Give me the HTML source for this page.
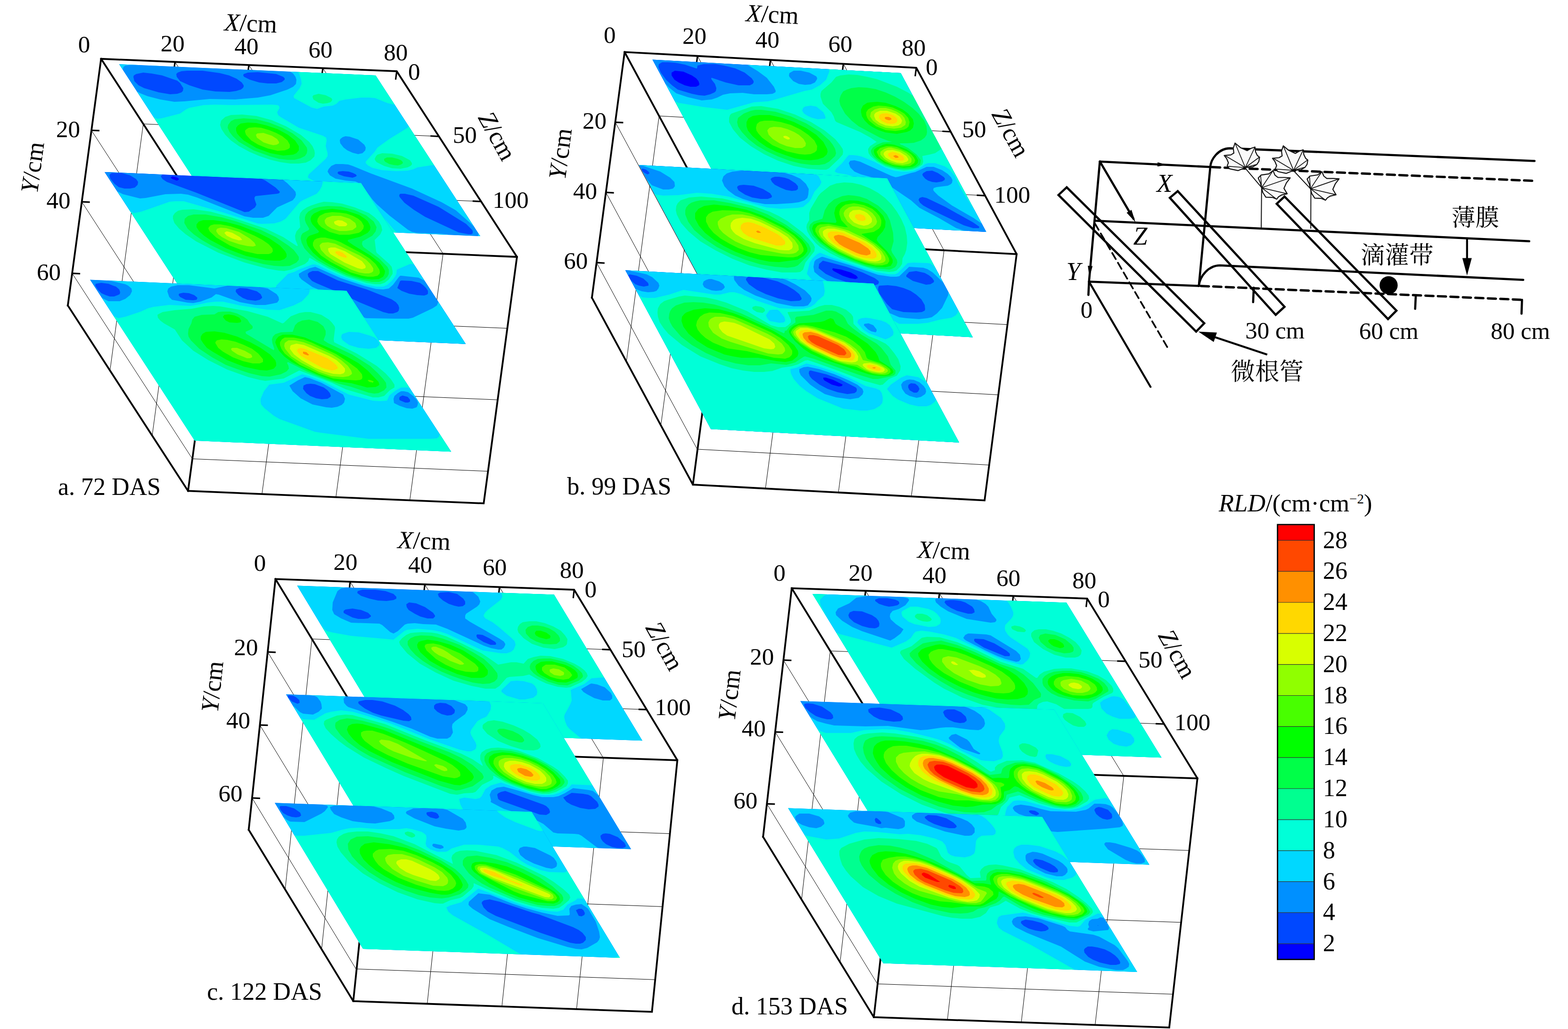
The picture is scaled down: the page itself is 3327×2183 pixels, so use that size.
<!DOCTYPE html><html><head><meta charset="utf-8"><style>html,body{margin:0;padding:0;background:#fff}svg{display:block}text{font-family:"Liberation Serif",serif;fill:#000}</style></head><body>
<svg width="3327" height="2183" viewBox="0 0 3327 2183">
<rect width="3327" height="2183" fill="#fff"/>
<g stroke="#000" stroke-linecap="butt" fill="none">
<g stroke-width="1.0">
<path d="M194,276.5 L449.1,670.1"/>
<path d="M449.1,670.1 L1076.4,696.5"/>
<path d="M173.6,428.2 L428.7,821.8"/>
<path d="M428.7,821.8 L1056,848.2"/>
<path d="M153.1,579.8 L408.2,973.4"/>
<path d="M408.2,973.4 L1035.5,999.8"/>
<path d="M304,262.9 L233.4,786.2"/>
<path d="M304,262.9 L931.3,289.3"/>
<path d="M393.5,401 L322.9,924.3"/>
<path d="M393.5,401 L1020.8,427.4"/>
<path d="M626.4,525 L555.8,1048.3"/>
<path d="M371.3,131.4 L626.4,525"/>
<path d="M783.2,531.6 L712.7,1054.9"/>
<path d="M528.1,138 L783.2,531.6"/>
<path d="M940.1,538.2 L869.5,1061.5"/>
<path d="M685,144.6 L940.1,538.2"/>
</g>
<g stroke-width="3.8" stroke-linejoin="miter" stroke-linecap="square">
<path d="M143.9,648.1 L214.5,124.8 L841.8,151.2 L1096.9,545 L1026.3,1067.9 L399,1041.5 L143.9,648.1"/>
<path d="M214.5,124.8 L469.6,518.4 L1096.9,545 M469.6,518.4 L399,1041.5"/>
</g>
<g stroke-width="3.2">
<path d="M371.3,131.4 L368.9,149.2"/>
<path d="M528.1,138 L525.7,155.8"/>
<path d="M685,144.6 L682.6,162.4"/>
<path d="M841.8,151.2 L839.4,169"/>
<path d="M194,276.5 L211,277.2"/>
<path d="M173.6,428.2 L190.6,428.9"/>
<path d="M153.1,579.8 L170.1,580.6"/>
<path d="M931.3,289.3 L913.3,288.5"/>
<path d="M1020.8,427.4 L1002.8,426.7"/>
</g>
</g>
<clipPath id="ca1"><polygon points="252.9,136.3 797.0,159.9 1019.1,501.1 475.0,477.5"/></clipPath>
<g clip-path="url(#ca1)">
<polygon points="252.9,136.3 797.0,159.9 1019.1,501.1 475.0,477.5" fill="#0048FF"/>
<path fill="#0090FF" fill-rule="evenodd" d="M253 130l3 3 75 0 3 3 75 0 3 3 75 0 3 3 72 0 3 3 75 0 3 3 75 0 3 3 75 0 9 9 0 3 6 6 0 3 6 6 0 3 3 3 0 3 6 6 0 3 6 6 0 3 6 6 0 3 6 6 0 3 6 6 0 3 6 6 0 3 3 3 0 3 6 6 0 3 6 6 0 3 6 6 0 3 6 6 0 3 6 6 0 3 6 6 0 3 3 3 0 3 6 6 0 3 6 6 0 3 6 6 0 3 6 6 0 3 6 6 0 3 3 3 0 3 6 6 0 3 6 6 0 3 6 6 0 3 6 6 0 3 6 6 0 3 6 6 0 3 3 3 0 3 6 6 0 3 6 6 0 3 6 6 0 3 6 6 0 3 6 6 0 3 6 6 0 3 3 3 0 3 6 6 0 3 6 6 0 3 3 3-6 6-3-3-66 0-3-3-63 0-3-3-66 1-3-3-63 0-3-3-66 0-3-3-66 0-3-3-63 0-3-3-66 0-9-10 0-3-6-6 0-3-6-6 0-3-6-6 0-3-6-6 0-3-3-3 0-3-6-6 0-3-6-6 0-3-6-6 0-3-6-6 0-3-6-6 0-3-6-6 0-3-6-6 0-3-6-6 0-3-6-6 0-3-3-3 0-3-6-6 0-3-6-6 0-3-6-6 0-3-6-6 0-3-6-6 0-3-6-6 0-3-6-6 0-3-6-6 0-3-3-3 0-3-6-6 0-3-6-6 0-3-6-6 0-3-6-6 0-3-6-6 0-3-6-6 0-3-6-6 0-3-6-6 0-3-6-6 0-3-3-3 0-3-6-6 0-3-6-6 0-3-6-6 0-3-6-6 0-3-3-3zM289 157l-5 3-1 3 2 9 9 9 12 6 31 9 24 4 15-1 9-3 3-3 1-6-7-11-6-5-9-3-23-8-22-4-18-2zM385 151l-8 3-3 3 1 6 7 9 20 9 28 9 27 4 30 1 14-2 10-3 4-3 2-3 0-3-4-6-11-8-16-7-20-5-36-5-33 0zM526 154l-9 3-1 3 2 3 12 6 20 6 18 2 18 0 12-3 6-5 0-3-3-3-15-6-39-4zM718 364l-2 3 3 3 11 4 18 3 6-2 3-2-2-3-6-3-9-3-13-1zM850 411l-2 1-1 3 1 3 10 12 20 15 24 15 71 33 21 4 6 0 3-2 0-5-2-3-12-12-58-36-54-24-18-4z"/>
<path fill="#00D8FF" fill-rule="evenodd" d="M253 130l3 3 75 0 3 3 75 0 0 3-21-2-57 3-24-2-33 0-8 1-4 3-2 6 1 6-2 0-12-18zM415 139l72 0 3 3 72 0 3 3 75 0 3 3 75 0 3 3 75 0 9 9 0 3 6 6 0 3 6 6 0 3 3 3 0 3 6 6 0 3 6 6 0 3 6 6 0 3 6 6 0 3 6 6 0 3 6 6 0 3 3 3 0 3 6 6 0 3 6 6 0 3 6 6 0 3 6 6 0 3 6 6 0 3 6 6 0 3 3 3 0 3 6 6 0 3 6 6 0 3 6 6 0 3 6 6 0 3 6 6 0 3 3 3 0 3 6 6 0 3 6 6 0 3 6 6 0 3 6 6 0 3 6 6 0 3 6 6 0 3 3 3 0 3 6 6 0 3 6 6 0 3 6 6 0 3 6 6 0 3 6 6 0 3 6 6 0 3 3 3 0 3 6 6 0 3 6 6 0 3 3 3-6 6-5-3 2-3 0-6-6-9-9-9-33-29-30-17-63-29-87-32-39-16-9-3-12-1-15 0-9 4-6 7-2 5 5 8 12 7 21 4 21 2 9 4 8 8 19 26 9 10 27 24 39 30 9 5 9 2 54 2 42 6-30 0-3-3-63 0-3-3-66 0-3-3-63 0-3-3-66 0-3-3-66 0-3-3-63 0-3-3-66 0-9-9 0-3-6-6 0-3-6-6 0-3-6-6 0-3-6-6 0-3-3-3 0-3-6-6 0-3-6-6 0-3-6-6 0-3-6-6 0-3-6-6 0-3-6-6 0-3-6-6 0-3-6-6 0-3-6-6 0-3-3-3 0-3-6-6 0-3-6-6 0-3-6-6 0-3-6-6 0-3-6-6 0-3-6-6 0-3-6-6 0-3-6-6 0-3-3-3 0-3-6-6 0-3-6-6 0-3-6-6 0-3-6-6 0-3-6-6 0-3-6-6 0-3-6-6 0-3-6-6 0-3 15 8 15 6 27 7 30 5 21-1 54-5 54 1 48-4 27-5 36-12 12-6 6-6 1-9-2-6-5-7-6-4-9-2-66-7-21 0-30 3-30-5zM727 291l-5 4-1 3 1 6 7 9 8 6 11 5 12 3 9-2 6-6 1-6-3-6-13-11-18-6-9-1zM262 157l1 3-1 0z"/>
<path fill="#00FFD8" fill-rule="evenodd" d="M628 145l12 0 3 3 75 0 3 3 75 0 9 9 0 3 6 6 0 3 6 6 0 3 3 3 0 3 6 6 0 3 6 6 0 3 6 6 0 3 6 6 0 3 6 6 0 6-6-9-6-4-15-3-27-11-12-1-18 0-33 4-13 3-6 6-8 4-19 2-14 5-12-3-37-20-1-3 1-3 12-15 4-9-1-9-4-12zM295 211l0-2 2 2zM298 214l0-2 2 2zM301 217l0-2 2 2 10 15-3 0-3-3 0-3-6-6zM432 223l25-1 33 1 87-1 12 1 3 2 1 4-5 9 2 6 5 4 39 23 51 17 7 4 1 6-2 12 4 15 0 6-4 6-36 33-2 6 2 2 9 5 30 6 51 5 12 4 6 5 24 31 28 29 23 27 8 6-32 0-3-3-63 0-3-3-66 0-3-3-66 0-3-3-63 0-3-3-66 0-9-9 0-3-6-6 0-3-6-6 0-3-6-6 0-3-6-6 0-3-3-3 0-3-6-6 0-3-6-6 0-3-6-6 0-3-6-6 0-3-6-6 0-3-6-6 0-3-6-6 0-3-6-6 0-3-6-6 0-3-3-3 0-3-6-6 0-3-6-6 0-3-6-6 0-3-6-6 0-3-6-6 0-3-6-6 0-3-6-6 0-3-6-6 0-3-3-3 0-3-6-6 0-3-6-6 0-5 9 8 6 2 9-1 39-10 13-9 6-3zM313 235l0-2 5 8-2 0-3-3zM850 235l3 0 3 3 0 6zM856 244l3 0 0 4zM860 250l2 0 0 3zM862 253l3 0 0 5zM866 259l2 0 3 3 0 3 6 6 0 3 6 6 0 3 6 6 0 3 6 6 0 3 3 3 0 3 6 6 0 3 6 6 0 3 6 6 0 3 6 6 0 3 6 6 0 3 3 3 0 6-6-8-6-3-33 5-9 4-12 3-24 1-30-2-21-5-9-5-5-5 0-3 19-21 6-9 25-18 39-24 2-3 1-3zM931 361l3 0 3 3 0 6zM937 370l3 0 3 3 0 6zM943 379l3 0 3 3 0 6zM949 388l3 0 3 3 0 3 6 6 0 3 6 6 0 3 3 3 0 5zM970 421l3 0 3 3 0 5zM976 430l3 0 3 3 0 6zM982 439l3 0 3 3 0 5zM989 448l2 0 3 3 0 4zM995 457l2 0 0 2zM998 460l2 0 0 3zM1005 469l1 0 0 2z"/>
<path fill="#00FF90" fill-rule="evenodd" d="M665 202l11-3 15 3 12 6 2 3-1 3-3 3-7 2-9 1-9-2-11-7-2-6zM490 244l24-1 30 3 33 9 30 13 31 18 18 15 7 9 4 9 1 6-1 7-8 8-10 5-15 2-18 0-21-3-21-5-24-8-21-9-22-12-17-12-12-12-8-12-3-9 2-9 9-8zM811 325l21 1 21 5 17 9 4 6 0 3-3 3-6 3-15 3-18-1-17-5-16-8-3-4-1-3 3-6 3-3z"/>
<path fill="#00FF48" fill-rule="evenodd" d="M498 253l19-2 27 2 27 7 28 11 22 12 19 15 11 15 1 6-1 6-4 6-10 5-12 3-15 0-18-2-18-5-36-13-31-18-13-12-7-9-4-9 1-6 6-8zM821 334l11 0 12 3 7 3 3 3 1 3-4 3-7 2-9-1-9-2-9-5-2-3 0-3z"/>
<path fill="#00FF00" fill-rule="evenodd" d="M511 262l15-2 18 1 21 5 24 8 22 12 15 12 8 12 0 9-5 6-7 3-21 2-27-5-30-11-27-16-9-9-5-6-2-6 0-6 4-5z"/>
<path fill="#48FF00" fill-rule="evenodd" d="M528 271l13-1 13 1 17 5 15 6 13 7 11 9 5 9 0 6-3 3-8 3-15 1-21-5-20-8-15-9-11-12-2-6 0-3 3-3z"/>
<path fill="#90FF00" fill-rule="evenodd" d="M546 283l13-1 18 6 11 7 4 6 0 3-5 3-7 1-9-2-12-4-14-10-2-6z"/>
</g>
<clipPath id="ca2"><polygon points="222.0,364.9 766.1,388.5 988.2,729.7 444.1,706.1"/></clipPath>
<g clip-path="url(#ca2)">
<polygon points="222.0,364.9 766.1,388.5 988.2,729.7 444.1,706.1" fill="#0000FF"/>
<path fill="#0048FF" fill-rule="evenodd" d="M222 359l3 3 75 0 3 3 75 0 3 3 75 0 3 3 72 0 3 3 75 0 3 3 75 0 3 3 75 0 9 9 0 3 6 6 0 3 6 6 0 3 3 3 0 3 6 6 0 3 6 6 0 3 6 6 0 3 6 6 0 3 6 6 0 3 6 6 0 3 3 3 0 3 6 6 0 3 6 6 0 3 6 6 0 3 6 6 0 3 6 6 0 3 6 6 0 3 3 3 0 3 6 6 0 3 6 6 0 3 6 6 0 3 6 6 0 3 6 6 0 3 3 3 0 3 6 6 0 3 6 6 0 3 6 6 0 3 6 6 0 3 6 6 0 3 6 6 0 3 3 3 0 3 6 6 0 3 6 6 0 3 6 6 0 3 6 6 0 3 6 6 0 3 6 6 0 3 3 3 0 3 6 6 0 3 6 6 0 3 3 3-6 6-3-3-66 0-3-3-63 0-3-3-66 0-3-3-63 0-3-3-66 0-3-3-66 0-3-3-63 0-3-3-66 0-9-9 0-3-6-6 0-3-6-6 0-3-6-6 0-3-6-6 0-3-3-3 0-3-6-6 0-3-6-6 0-3-6-6 0-3-6-6 0-3-6-6 0-3-6-6 0-3-6-6 0-3-6-6 0-3-6-6 0-3-3-3 0-3-6-6 0-3-6-6 0-3-6-6 0-3-6-6 0-3-6-6 0-3-6-6 0-3-6-6 0-3-6-6 0-3-3-3 0-3-6-6 0-3-6-6 0-3-6-6 0-3-6-6 0-3-6-6 0-3-6-6 0-3-6-6 0-3-6-6 0-3-6-6 0-3-3-3 0-3-6-6 0-3-6-6 0-3-6-6 0-3-6-6 0-3-3-3zM366 374l-4 3 4 3 9 3 3-1 2-2-3-3z"/>
<path fill="#0090FF" fill-rule="evenodd" d="M222 359l3 3 75 0 3 3 75 0 3 3 75 0 3 3 72 0 3 3 75 0 3 3 75 0 3 3 75 0 9 9 0 3 6 6 0 3 6 6 0 3 3 3 0 3 6 6 0 3 6 6 0 3 6 6 0 3 6 6 0 3 6 6 0 3 6 6 0 3 3 3 0 3 6 6 0 3 6 6 0 3 6 6 0 3 6 6 0 3 6 6 0 3 6 6 0 3 3 3 0 3 6 6 0 3 6 6 0 3 6 6 0 3 6 6 0 3 6 6 0 3 3 3 0 3 6 6 0 3 6 6 0 3 6 6 0 3 6 6 0 3 6 6 0 3 6 6 0 3 3 3 0 3 6 6 0 3 6 6 0 3 6 6 0 3 6 6 0 3 6 6 0 3 6 6 0 3 3 3 0 3 6 6 0 3 6 6 0 3 3 3-6 6-3-3-66 0-3-3-63 0-3-3-66 0-3-3-63 0-3-3-66 0-3-3-66 0-3-3-63 0-3-3-66 0-9-9 0-3-6-6 0-3-6-6 0-3-6-6 0-3-6-6 0-3-3-3 0-3-6-6 0-3-6-6 0-3-6-6 0-3-6-6 0-3-6-6 0-3-6-6 0-3-6-6 0-3-6-6 0-3-6-6 0-3-3-3 0-3-6-6 0-3-6-6 0-3-6-6 0-3-6-6 0-3-6-6 0-3-6-6 0-3-6-6 0-3-6-6 0-3-3-3 0-3-6-6 0-3-6-6 0-3-6-6 0-3-6-6 0-3-6-6 0-3-6-6 0-3-6-6 0-3-6-6 0-3-6-6 0-3-3-3 0-3-6-6 0-3-6-6 0-3-6-6 0-3-6-6 0-3-3-3zM237 367l-5 4 2 8 9 11 9 7 12 3 12 0 10-2 6-6 1-6-4-6-13-8-18-5zM357 368l-12 2-4 4 4 6 9 6 63 23 102 41 9-1 13-9 3-6-4-12 0-3 2-3 46-5 4-1 2-3-9-9-22-15-11-5-63-1-21-3-54 0-15-3zM663 575l-7 3-3 3 1 6 8 9 10 5 57 24 33 16 51 21 12 3 9 0 9-3 3-3 1-6-2-6-5-6-9-6-53-21-61-19-42-20zM852 595l-3 1-6 15 9 6 16 6 17 3 15 1 6-2 2-2 0-6-4-6-6-6-7-5-18-4z"/>
<path fill="#00D8FF" fill-rule="evenodd" d="M222 359l2 3-2 3 0 6-3 0 0-3-3-3zM275 362l25 0 3 3 23 0-32 1zM558 374l51 0 3 3 75 0 3 3 75 0 9 9 0 3 6 6 0 3 6 6 0 3 3 3 0 3 6 6 0 3 6 6 0 3 6 6 0 3 6 6 0 3 6 6 0 3 6 6 0 3 3 3 0 3 6 6 0 3 6 6 0 3 6 6 0 3 6 6 0 3 6 6 0 3 6 6 0 3 3 3 0 3 6 6 0 3 6 6 0 3 6 6 0 3 6 6 0 3 6 6 0 3 3 3 0 3 6 6 0 3 6 6 0 5-12-12-12-6-36-4-3 0-3 3-12 16-9 8-12 2-15-1-24-6-51-17-54-24-12 3-15 7-8 5 1 6 5 6 23 16 71 29 8 6 23 25 6 4 6 2 60 1 30 0 9-2 42-20 9-6 3-7-5-15 2 0 3 3 0 3 6 6 0 3 3 3 0 3 6 6 0 3 6 6 0 3 6 6 0 3 6 6 0 3 6 6 0 3 6 6 0 3 3 3 0 3 6 6 0 3 6 6 0 3 3 3-6 6-3-3-66 0-3-3-63 0-3-3-66 0-3-3-63 0-3-3-66 0-3-3-66 0-3-3-63 0-3-3-66 0-9-9 0-3-6-6 0-3-6-6 0-3-6-6 0-3-6-6 0-3-3-3 0-3-6-6 0-3-6-6 0-3-6-6 0-3-6-6 0-3-6-6 0-3-6-6 0-3-6-6 0-3-6-6 0-3-6-6 0-3-3-3 0-3-6-6 0-3-6-6 0-3-6-6 0-3-6-6 0-3-6-6 0-3-6-6 0-3-6-6 0-3-6-6 0-3-3-3 0-3-6-6 0-3-6-6 0-3-6-6 0-3-6-6 0-3-6-6 0-3-6-6 0-3-6-6 0-3-6-6 0-3-6-6 0-3-3-3 0-6 6 5 12 6 36 9 12-1 42-8 33-1 15 2 19 6 101 40 18 3 21 0 12-4 18-18 33-15 5-6 2-6-1-6-5-6-12-12-10-8-9-3-18-1zM231 389l0-1 1 1zM237 395l3 3-3 0zM240 401l0-3 3 3zM913 608l2 0 0 2zM915 611l3 0 0 4zM920 617l1 0 0 2zM921 620l3 0 0 5z"/>
<path fill="#00FFD8" fill-rule="evenodd" d="M626 377l61 0 3 3 75 0 9 9 0 3 6 6 0 3 6 6 0 3 3 3 0 3 6 6 0 3 6 6 0 3 6 6 0 3 6 6 0 3 6 6 0 3 6 6 0 3 3 3 0 3 6 6 0 3 6 6 0 3 6 6 0 3 6 6 0 3 6 6 0 3 6 6 0 3 3 3 0 3 6 6 0 3 6 6 0 3 6 6 0 3 6 6 0 3 6 6 0 2-18-18-3-2-6 0-28 12-1 9-3 6-7 9-9 8-9 4-15 0-24-5-27-9-30-11-42-20-6-2-6 0-27 10-12 6-13 4-24 24-3 6-2 6 3 6 9 10 22 20 44 43 25 23-37 0-3-3-66 0-3-3-63 0-3-3-66 0-9-9 0-3-6-6 0-3-6-6 0-3-6-6 0-3-6-6 0-3-3-3 0-3-6-6 0-3-6-6 0-3-6-6 0-3-6-6 0-3-6-6 0-3-6-6 0-3-6-6 0-3-6-6 0-3-6-6 0-3-3-3 0-3-6-6 0-3-6-6 0-3-6-6 0-3-6-6 0-3-6-6 0-3-6-6 0-3-6-6 0-3-6-6 0-3-3-3 0-3-6-6 0-3-6-6 0-3-6-6 0-3-6-6 0-3-6-6 0-3-6-6 0-3-6-6 0-3-3-3 0-3 21 25 3 3 6 2 15-3 60-21 12-1 18 0 84 24 72 23 9 1 27-1 14-4 10-6 30-35 6-4 30-14 6-7 5-9 2-9-1-3-3-3-9-1-33-1zM252 422l0-2 3 2z"/>
<path fill="#00FF90" fill-rule="evenodd" d="M675 431l12-3 18 1 21 3 27 8 30 12 12 9 9 9 5 9 2 9-4 9-12 12 3 24 1 3 27 24 5 6 2 9 0 6-8 12-9 7-9 3-12 0-18-3-42-13-39-18-39-22-1 1-2 6-7 6-29 12-15 3-12-1-24-4-48-13-56-21-47-24-22-15-14-12-10-12-3-9 0-6 4-6 7-5 9-2 24-1 36 5 44 12 73 24 37 18 29 19 2-1-5-12-1-9 3-9 8-9-2-21 2-9 5-6 9-6 9-4z"/>
<path fill="#00FF48" fill-rule="evenodd" d="M695 437l28 1 30 8 24 11 16 13 6 12-2 9-7 9-21 12-1 6 3 6 33 24 18 18 3 6 0 9-3 6-6 6-6 3-6 2-15 0-21-4-32-10-38-18-26-15-15-12-11-12-6-12-2-9 1-6 3-5 13-7 1-3-7-12-2-6 0-6 2-6 5-6 12-7 12-3zM411 455l25 0 34 6 32 9 52 18 31 15 27 18 11 9 7 9 4 6 0 6-5 6-14 7-15 1-18-1-24-4-27-7-27-8-30-12-25-12-21-12-17-12-13-12-7-12 1-9 7-6z"/>
<path fill="#00FF00" fill-rule="evenodd" d="M681 446l24-3 30 4 27 9 12 8 6 5 4 7 2 6-1 6-5 6-15 8-27 7 0 3 13 9 35 21 19 15 7 9 5 9-1 6-3 6-9 5-15 1-18-2-24-7-21-9-34-18-14-9-14-12-11-15-2-6-1-6 3-6 4-3 18-6 2-3-14-15-3-6-1-6 2-6 5-5zM431 467l22 0 27 4 30 8 38 15 24 12 22 15 11 12 3 6 0 6-5 5-9 3-12 0-18-1-42-9-42-16-34-18-13-9-10-9-6-9 0-6 5-6z"/>
<path fill="#48FF00" fill-rule="evenodd" d="M690 452l15-2 15 1 15 2 14 5 11 6 7 6 5 9-1 6-5 6-5 3-20 4-21 0-21-6-17-10-6-6-3-6 1-6 4-6zM454 476l14 0 21 4 21 7 30 13 17 9 13 9 8 9 1 6-3 4-6 2-24 0-27-6-31-12-29-17-14-13-3-6 1-3 4-4zM672 506l9-2 9 0 21 5 12 5 45 24 16 10 13 12 8 12 1 6-1 3-4 4-9 2-12 0-12-2-24-7-42-22-21-14-14-15-3-6 0-6 3-6z"/>
<path fill="#90FF00" fill-rule="evenodd" d="M705 458l18 0 19 6 12 9 2 6 0 3-8 6-13 2-15 0-16-5-10-6-4-5-1-4 0-3 4-5zM461 485l7-2 12 1 27 8 23 14 10 9 3 6-6 2-12-1-18-4-21-7-15-8-8-6-4-6 0-3zM684 515l12-1 15 3 52 25 14 9 9 9 6 9 0 6-3 3-6 2-9 0-12-2-17-6-35-18-18-12-11-12-3-9 2-3z"/>
<path fill="#D8FF00" fill-rule="evenodd" d="M709 470l8-3 9 1 9 5 2 3-2 3-3 1-12 0-9-4-2-3zM476 494l4-3 3 0 10 3 16 9 5 6-7 1-14-4-12-6zM696 527l6-2 9 0 21 8 36 21 7 9 1 3-1 3-7 2-9-2-28-12-30-18-4-6z"/>
<path fill="#FFD800" fill-rule="evenodd" d="M713 533l7 0 7 3 7 6 2 3-1 2-6-1-11-4-7-6z"/>
</g>
<clipPath id="ca3"><polygon points="191.1,593.5 735.2,617.1 957.3,958.3 413.2,934.7"/></clipPath>
<g clip-path="url(#ca3)">
<polygon points="191.1,593.5 735.2,617.1 957.3,958.3 413.2,934.7" fill="#0048FF"/>
<path fill="#0090FF" fill-rule="evenodd" d="M191 588l3 2 75 0 3 3 75 0 3 3 75 0 3 3 72 0 3 3 75 0 3 3 75 0 3 3 75 0 9 10 0 2 6 6 0 4 6 6 0 2 3 4 0 2 6 6 0 4 6 6 0 2 6 6 0 4 6 6 0 2 6 6 0 4 6 6 0 2 3 4 0 2 6 6 0 4 6 6 0 2 6 6 0 4 6 6 0 2 6 6 0 4 6 6 0 2 3 4 0 2 6 6 0 4 6 6 0 2 6 6 0 4 6 6 0 2 6 6 0 4 3 2 0 4 6 6 0 2 6 6 0 4 6 6 0 2 6 6 0 4 6 6 0 2 6 6 0 4 3 2 0 4 6 6 0 2 6 6 0 4 6 6 0 2 6 6 0 4 6 6 0 2 6 6 0 4 3 2 0 4 6 6 0 2 6 6 0 4 3 2-6 7-3-3-66 0-3-3-63 0-3-3-66 0-3-3-63 0-3-3-66 0-3-3-66 0-3-3-63 0-3-3-66 0-9-9 0-4-6-6 0-2-6-6 0-4-6-6 0-2-6-6 0-4-3-2 0-4-6-6 0-2-6-6 0-4-6-6 0-2-6-6 0-4-6-6 0-2-6-6 0-4-6-6 0-2-6-6 0-4-6-6 0-2-3-4 0-2-6-6 0-4-6-6 0-2-6-6 0-4-6-6 0-2-6-6 0-4-6-6 0-2-6-6 0-4-6-6 0-2-3-4 0-2-6-6 0-4-6-6 0-2-6-6 0-4-6-6 0-2-6-6 0-4-6-6 0-2-6-6 0-4-6-6 0-2-6-6 0-4-3-2 0-4-6-6 0-2-6-6 0-4-6-6 0-2-6-6 0-4-3-2zM203 602l-1 4 5 8 8 8 9 4 9 3 9 0 8-3 4-2 1-4-2-6-7-6-6-2-10-4-15-2zM380 623l-1 3 3 4 12 6 16 1 7-1 2-4-2-2-5-4-11-4-12-1zM509 611l-8 3-1 4 1 2 5 6 9 6 10 4 17 2 9-2 5-4 0-2-3-6-8-6-21-6zM650 815l-6 3-1 7 7 9 8 6 13 5 12 2 12-1 6-4 1-2-2-6-5-6-8-6-19-7-9-1zM854 839l-6 3-1 4 1 3 12 5 6 0 4-2 0-4-5-6z"/>
<path fill="#00D8FF" fill-rule="evenodd" d="M191 588l3 2 75 0 3 3 75 0 3 3 75 0 3 3 72 0 3 3 75 0 3 3 75 0 3 3 75 0 9 10 0 2 6 6 0 4 6 6 0 2 3 4 0 2 6 6 0 4 6 6 0 2 6 6 0 4 6 6 0 2 6 6 0 4 6 6 0 2 3 4 0 2 6 6 0 4 6 6 0 2 6 6 0 4 6 6 0 2 6 6 0 4 6 6 0 2 3 4 0 2 6 6 0 4 6 6 0 2 6 6 0 4 6 6 0 2 6 6 0 4 3 2 0 4 6 6 0 2 6 6 0 4 6 6 0 2 6 6 0 4 6 6 0 2 6 6 0 4 3 2 0 4 6 6 0 2 6 6 0 4 6 6 0 2 6 6 0 4 6 6 0 2 6 6 0 4 3 2 0 4 6 6 0 2 6 6 0 4 3 2-6 7-3-3-66 0-3-3-63 0-3-3-66 0-3-3-63 0-3-3-66 0-3-3-66 0-3-3-63 0-3-3-66 0-9-9 0-4-6-6 0-2-6-6 0-4-6-6 0-2-6-6 0-4-3-2 0-4-6-6 0-2-6-6 0-4-6-6 0-2-6-6 0-4-6-6 0-2-6-6 0-4-6-6 0-2-6-6 0-4-6-6 0-2-3-4 0-2-6-6 0-4-6-6 0-2-6-6 0-4-6-6 0-2-6-6 0-4-6-6 0-2-6-6 0-4-6-6 0-2-3-4 0-2-6-6 0-4-6-6 0-2-6-6 0-4-6-6 0-2-6-6 0-4-6-6 0-2-6-6 0-4-6-6 0-2-6-6 0-4-3-2 0-4-6-6 0-2 12 9 12 6 24 0 12-5 10-8 4-8-1-6-7-6-6-3-30-7-21-4-21 0-3 2-3 6 0-4-3-2zM377 605l-14 3-6 4-2 6 4 12 6 6 33 6 12 1 15-3 24-9 9-7 6 1 45 16 33 6 21 0 16-3 9-2 3-4 1-2-1-6-4-6-19-12-44-8-33 0-36 8-54-7zM647 800l-15 7-18 11 7 12 17 15 25 13 29 6 12 1 12-2 9-4 5-5 2-8-4-9-46-25-26-10zM851 830l-7 4-7 6-2 6 1 9 12 6 15 5 12 1 9-3 2-4 1-6-3-6-6-7-12-9-9-2z"/>
<path fill="#00FFD8" fill-rule="evenodd" d="M310 594l37-1 0 2-27 0zM412 596l13 0 0 2zM568 602l10 0 0 3zM580 606l76-1 3 3 75 0 9 10 0 2 6 6 0 4 6 6 0 2 3 4 0 2 6 6 0 4 6 6 0 2 6 6 0 4 6 6 0 2 6 6 0 4 6 6 0 2 3 4 0 2 6 6 0 4 6 6 0 2 6 6 0 4 6 6 0 2 6 6 0 4 6 6 0 2 3 4 0 2 6 6 0 4 6 6 0 2 6 6 0 4 6 6 0 2 6 6 0 4 3 2 0 4 6 6 0 5-9-5-15 0-11 6-8 6-6 5-5 11-15 1-15-1-51-13-53-27-31-12-15-4-39 18-31 4-11 14-7 16 0 6 1 6 7 8 20 16 12 7 75 27 12 2 102 13 132 0 13-1 5-4 1-6-4-8-15-24 3-1 3 3 0 4 6 6 0 2 6 6 0 4 6 6 0 2 6 6 0 4 3 2 0 4 6 6 0 2 6 6 0 4 3 2-6 7-3-3-66 0-3-3-63 0-3-3-66 0-3-3-63 0-3-3-66 0-3-3-66 0-3-3-63 0-3-3-66 0-9-9 0-4-6-6 0-2-6-6 0-4-6-6 0-2-6-6 0-4-3-2 0-4-6-6 0-2-6-6 0-4-6-6 0-2-6-6 0-4-6-6 0-2-6-6 0-4-6-6 0-2-6-6 0-4-6-6 0-2-3-4 0-2-6-6 0-4-6-6 0-2-6-6 0-4-6-6 0-2-6-6 0-4-6-6 0-2-6-6 0-4-6-6 0-2-3-4 0-2-6-6 0-4-6-6 0-2-6-6 0-4-6-6 0-2-6-6 0-4-6-6 0-2-6-6 0-4-6-6 0-3 7 7 14 17 9 4 15-3 33-11 15-7 12-3 33-4 45 2 18-3 18-4 18-2 15 0 36 8 57 9 27 1 30-10 18-9 14-15 2-6 0-4-4-2-6-2-30 0zM740 704l-12 4-3 2-1 6 3 6 14 10 20 6 21 2 16-2 5-4 2-2 0-4-3-6-7-6-10-4-24-7zM876 828l2 0 0 2zM878 830l3 0 0 4zM898 858l1 0 0 2 6 6 0 4 3 2 0 6-9-14zM909 878l2 0 3 4 0 5z"/>
<path fill="#00FF90" fill-rule="evenodd" d="M433 650l19-1 15 1 58 10 43 12 31 14 3-1 15-14 18-7 12-2 12 0 12 3 11 3 16 10 6 6 6 8 1 4-3 24 1 6 48 24 42 26 19 16 11 12 8 12 0 6-10 6-12 12-12 3-12 0-57-17-30-14-69-26-33 17-39 5-12-2-24-6-45-16-40-20-32-20-24-22-15-23-23-13-8-6-5-6-1-6 3-2 8-4 26-4 36-3z"/>
<path fill="#00FF48" fill-rule="evenodd" d="M463 662l10-1 15 0 15 4 14 7 8 6 5 8 6 6 0 4-2 2-13 6 1 4 59 35 1-3-4-12-1-8 2-6 5-5 12-4 25-1 5-14 6-6 9-4 15-2 18 5 12 9 5 10 0 8-4 10 0 2 9 6 51 24 38 24 17 16 11 12 6 8 1 10-5 6-12 6-9 1-12-2-39-13-24-6-27-9-41-17-40-20-2 2 3 6 1 6-5 6-12 6-24 5-16-1-26-6-27-9-24-9-29-16-27-18-18-18-5-8-1-6 1-10 6-12 2-8 5-6 15-4 27-1z"/>
<path fill="#00FF00" fill-rule="evenodd" d="M476 668l9-1 12 2 11 5 4 7-2 3-7 1-16-1-8-4-5-6-1-2zM437 704l18-1 21 3 27 8 28 12 22 12 20 14 11 12 2 6 0 6-5 6-6 2-9 2-15-1-33-7-36-14-31-18-12-8-8-10-5-8 0-6 4-6zM600 710l20 0 27 6 60 26 28 14 25 14 20 16 23 24 2 6-2 2-6 3-18 1-33-9-36-5-38-14-38-18-15-8-16-12-11-12-5-10-3-8 2-6 5-6z"/>
<path fill="#48FF00" fill-rule="evenodd" d="M604 716l19 0 21 4 18 7 51 24 26 17 19 14 10 12 1 6-1 4-4 2-9 1-30-2-18-2-30-10-41-19-22-16-10-8-7-10-3-8 0-6 4-6zM460 722l10-2 12 1 18 4 18 7 17 8 13 10 10 12 0 6-7 3-15 0-21-5-21-8-21-12-10-8-6-10 0-2zM780 806l5 0 8 3-2 3-3-1-5-1z"/>
<path fill="#90FF00" fill-rule="evenodd" d="M612 722l14 0 18 4 16 6 45 20 19 12 14 12 7 10 2 6-1 2-6 4-12 2-25-2-26-9-37-19-22-14-13-16-2-6 1-6 2-2zM493 738l10 0 16 6 14 8 2 4 0 2-5 2-6 0-20-8-12-8-2-4z"/>
<path fill="#D8FF00" fill-rule="evenodd" d="M618 732l11-3 16 3 53 23 16 9 11 10 7 8 0 6-3 4-7 2-15-1-19-5-20-8-28-16-16-12-9-12 1-6z"/>
<path fill="#FFD800" fill-rule="evenodd" d="M632 740l6-2 9 2 48 20 11 8 7 6 4 6-1 2-6 3-6 1-12-3-9-3-45-25-7-9-1-2z"/>
<path fill="#FF9000" fill-rule="evenodd" d="M643 746l7 1 6 6-3 1-6-2-4-2z"/>
</g>
<text x="366.3" y="108.6" font-size="51" text-anchor="middle">20</text>
<text x="523.1" y="115.2" font-size="51" text-anchor="middle">40</text>
<text x="680" y="121.8" font-size="51" text-anchor="middle">60</text>
<text x="839.8" y="128.4" font-size="51" text-anchor="middle">80</text>
<text x="178.5" y="110.5" font-size="51" text-anchor="middle">0</text>
<text x="170" y="290.7" font-size="51" text-anchor="end">20</text>
<text x="149.6" y="442.4" font-size="51" text-anchor="end">40</text>
<text x="129.1" y="594.1" font-size="51" text-anchor="end">60</text>
<text x="960.8" y="302.5" font-size="51" text-anchor="start">50</text>
<text x="1045.3" y="440.6" font-size="51" text-anchor="start">100</text>
<text x="878.8" y="169.4" font-size="51" text-anchor="middle">0</text>
<text x="532.1" y="66.9" font-size="53" text-anchor="middle" transform="rotate(2.4 532.1 49)"><tspan font-style="italic">X</tspan>/cm</text>
<text x="68.8" y="373.2" font-size="53" text-anchor="middle" transform="rotate(-82.3 68.8 355.3)"><tspan font-style="italic">Y</tspan>/cm</text>
<text x="1055.3" y="306.2" font-size="53" text-anchor="middle" transform="rotate(61 1055.3 288.3)"><tspan font-style="italic">Z</tspan>/cm</text>
<text x="341" y="1049.5" font-size="52" text-anchor="end">a. 72 DAS</text>
<g stroke="#000" stroke-linecap="butt" fill="none">
<g stroke-width="1.0">
<path d="M1305.5,259.3 L1519.1,655.2"/>
<path d="M1519.1,655.2 L2138,688.7"/>
<path d="M1285.6,408.2 L1499.2,804.1"/>
<path d="M1499.2,804.1 L2118.1,837.6"/>
<path d="M1265.8,557.1 L1479.4,953"/>
<path d="M1479.4,953 L2098.3,986.5"/>
<path d="M1398.5,246 L1329.1,767.2"/>
<path d="M1398.5,246 L2017.4,279.5"/>
<path d="M1471.6,381.6 L1402.2,902.8"/>
<path d="M1471.6,381.6 L2090.5,415.1"/>
<path d="M1693.6,514.7 L1624.2,1035.9"/>
<path d="M1480,118.8 L1693.6,514.7"/>
<path d="M1848.3,523 L1779,1044.2"/>
<path d="M1634.8,127.2 L1848.3,523"/>
<path d="M2003.1,531.4 L1933.7,1052.6"/>
<path d="M1789.5,135.5 L2003.1,531.4"/>
</g>
<g stroke-width="3.8" stroke-linejoin="miter" stroke-linecap="square">
<path d="M1255.9,631.6 L1325.3,110.4 L1944.2,143.9 L2157.1,539.2 L2089.1,1061.6 L1470.2,1028.1 L1255.9,631.6"/>
<path d="M1325.3,110.4 L1538.9,506.3 L2157.1,539.2 M1538.9,506.3 L1470.2,1028.1"/>
</g>
<g stroke-width="3.2">
<path d="M1480,118.8 L1477.6,136.6"/>
<path d="M1634.8,127.2 L1632.4,145"/>
<path d="M1789.5,135.5 L1787.1,153.4"/>
<path d="M1944.2,143.9 L1941.8,161.7"/>
<path d="M1305.5,259.3 L1322.4,260.2"/>
<path d="M1285.6,408.2 L1302.6,409.1"/>
<path d="M1265.8,557.1 L1282.8,558.1"/>
<path d="M2017.4,279.5 L1999.4,278.5"/>
<path d="M2090.5,415.1 L2072.5,414.1"/>
</g>
</g>
<clipPath id="cb1"><polygon points="1384.4,126.6 1911.2,155.1 2092.7,492.1 1565.9,463.6"/></clipPath>
<g clip-path="url(#cb1)">
<polygon points="1384.4,126.6 1911.2,155.1 2092.7,492.1 1565.9,463.6" fill="#0000FF"/>
<path fill="#0048FF" fill-rule="evenodd" d="M1384 121l3 2 54 0 3 3 57 0 3 3 54 0 3 3 57 0 3 3 54 0 3 3 57 0 3 3 54 0 3 3 57 0 3 3 54 0 10 10 0 3 3 3 0 3 3 3 0 3 3 3 0 3 3 3 0 3 6 6 0 3 3 3 0 3 3 3 0 3 3 3 0 3 3 3 0 3 6 6 0 3 3 3 0 3 3 3 0 3 3 3 0 3 3 3 0 3 6 6 0 3 3 3 0 3 3 3 0 3 3 3 0 3 3 3 0 3 6 6 0 3 3 3 0 3 3 3 0 3 3 3 0 3 3 3 0 3 3 3 0 3 6 6 0 3 3 3 0 3 3 3 0 3 3 3 0 3 3 3 0 3 6 6 0 3 3 3 0 3 3 3 0 3 6 9 0 3 6 6 0 3 3 3 0 3 3 3 0 3 3 3 0 3 3 3 0 3 6 6 0 3 3 3 0 3 3 3 0 3 6 9 0 3 6 6 0 3 3 3 0 3 3 3 0 3 3 3 0 3 6 9-7 6-3-3-57 0-3-3-54 0-3-3-57 0-3-3-54 0-3-3-57 0-3-3-54 0-3-3-57 0-3-3-54 0-3-3-57 0-9-9 0-3-6-9 0-3-6-9 0-3-3-3 0-3-3-3 0-3-6-6 0-3-3-3 0-3-3-3 0-3-3-3 0-3-3-3 0-3-3-3 0-3-6-6 0-3-6-9 0-3-6-9 0-3-3-3 0-3-3-3 0-3-6-6 0-3-3-3 0-3-3-3 0-3-3-3 0-3-3-3 0-3-3-3 0-3-6-6 0-3-3-3 0-3-3-3 0-3-3-3 0-3-6-9 0-3-3-3 0-3-6-6 0-3-6-9 0-3-3-3 0-3-3-3 0-3-3-3 0-3-6-6 0-3-3-3 0-3-3-3 0-3-3-3 0-3-3-3 0-3-3-3 0-3-3-3 0-3-6-6 0-3-3-3 0-3-3-3 0-3-3-3 0-3-3-3 0-3-3-3 0-3-3-3zM1432 150l-7 4 0 6 6 9 9 6 13 6 12 3 12 0 6-3 1-3-2-6-5-6-9-6-18-8z"/>
<path fill="#0090FF" fill-rule="evenodd" d="M1384 121l3 2 54 0 3 3 57 0 3 4 54-1 3 3 57 0 3 3 54 0 3 3 57 0 3 3 54 0 3 3 57 0 3 3 54 0 10 10 0 3 6 9 0 3 3 3 0 3 3 3 0 3 6 6 0 3 3 3 0 3 3 3 0 3 3 3 0 3 3 3 0 3 6 6 0 3 3 3 0 3 3 3 0 3 3 3 0 3 3 3 0 3 6 6 0 3 3 3 0 3 3 3 0 3 3 3 0 3 3 3 0 3 6 6 0 3 3 3 0 3 3 3 0 3 3 3 0 3 3 3 0 3 3 3 0 3 6 6 0 3 3 3 0 3 3 3 0 3 3 3 0 3 3 3 0 3 6 6 0 3 3 3 0 3 3 3 0 3 6 9 0 3 6 6 0 3 3 3 0 3 3 3 0 3 3 3 0 3 3 3 0 3 6 6 0 3 3 3 0 3 3 3 0 3 6 9 0 3 6 6 0 3 3 3 0 3 3 3 0 3 3 3 0 3 6 9-7 6-3-3-57 0-3-3-54 0-3-3-57 0-3-3-54 0-3-3-57 0-3-3-54 0-3-3-57 0-3-3-54 0-3-3-57 0-9-9 0-3-6-9 0-3-6-9 0-3-3-3 0-3-3-3 0-3-6-6 0-3-3-3 0-3-6-9 0-3-3-3 0-3-3-3 0-3-6-6 0-3-3-3 0-3-6-9 0-3-3-3 0-3-3-3 0-3-3-3 0-3-6-6 0-3-6-9 0-3-3-3 0-3-3-3 0-3-3-3 0-3-6-6 0-3-6-9 0-3-3-3 0-3-3-3 0-3-6-9 0-3-6-6 0-3-6-9 0-3-3-3 0-3-3-3 0-3-3-3 0-3-6-6 0-3-3-3 0-3-3-3 0-3-3-3 0-3-3-3 0-3-3-3 0-3-3-3 0-3-6-6 0-3-3-3 0-3-3-3 0-3-3-3 0-3-3-3 0-3-3-3 0-3-3-3zM1405 132l-7 4-1 6 5 12 12 16 12 11 12 9 30 9 15 3 12 1 12-3 9-4 3-3 1-6-3-9-7-9-1-3 1-1 30 10 27 6 24 0 6-3 2-3 0-3-4-6-15-12-20-9-24-6-17-3-26 0-13 3-1 6-2 0-24-8-21-4-15-1zM1951 420l-2 4 3 6 7 6 11 6 75 36 20 6 12 0 1-3-13-9-59-33-40-19-9-2zM1966 363l-7 4-2 3 1 3 5 6 6 4 9 3 9 1 12-2 5-3 1-3-2-3-13-9-12-5z"/>
<path fill="#00D8FF" fill-rule="evenodd" d="M1384 121l3 3 7 0-7 2-3 3-1 4-2 0 0-3-3-3zM1424 124l17 0 0 3zM1535 130l23 0 3 3 57-1 3 4 54-1 3 4 57-1 3 4 54-1 3 3 57 0 3 3 54 0 10 10 0 3 6 9 0 3 6 9 0 3 6 6 0 3 3 3 0 3 3 3 0 3 3 3 0 3 3 3 0 3 6 6 0 3 3 3 0 3 3 3 0 3 3 3 0 3 3 3 0 3 6 6 0 3 3 3 0 3 3 3 0 3 3 3 0 3 3 3 0 3 6 6 0 3 3 3 0 3 3 3 0 3 3 3 0 3 3 3 0 3 3 3 0 3 6 6 0 3 3 3 0 3 3 3 0 3 3 3 0 3 3 3 0 3 6 6 0 3 3 3 0 3 3 3 0 3 6 9 0 3 6 6 0 3 3 3 0 3 3 3 0 3 3 3 0 3 3 3 0 3 6 6 0 3 3 3 0 3 3 3 0 3 6 9 0 3 6 6 0 3 3 3-1 3 3 3 0 3 3 3 0 3 6 9-6 6-3-3 4-3-1-6-8-9-19-13-45-26-29-21-9-9-2-3 1-4 6-2 24-3 6-3 3-3 1-6-3-6-7-7-12-8-18-7-15 0-24 11-9 2-27 8-6 1-9-3-66-30-12-3-9 1-3 5 3 9 9 9 14 6 37 10 9 4 60 41 18 16 42 22 36 21 12 4 30 5-39 0-3-3-54 0-3-3-57 0-3-3-54 0-3-3-57 0-3-3-54 0-3-3-57 0-3-3-54 0-3-3-57 0-9-9 0-3-6-9 0-3-3-3 0-3-3-3 0-3-3-3 0-3-3-3 0-3-6-6 0-3-6-9 0-3-3-3 0-3-6-9 0-3-6-6 0-3-3-3 0-3-6-9 0-3-3-3 0-3-6-9 0-3-6-6 0-3-3-3 0-3-6-9 0-3-3-3 0-3-3-3 0-3-6-6 0-3-6-9 0-3-6-9 0-3-3-3 0-3-3-3 0-3-6-6 0-3-3-3 0-3-6-9 0-3-3-3 0-3-3-3 0-3-6-6 0-3-3-3 0-3-3-3 0-3-3-3 0-3-3-3 0-3-3-3 0-3-3-3 0-5 18 19 15 12 24 8 30 7 21-2 12-4 12-6 15-3 27-1 24 3 27 0 12-1 6-3 1-3-4-9-15-19-19-14-26-16zM1684 150l-9 5-1 5 1 3 8 9 12 6 13 2 12-1 9-4 4-6 1-3-2-4-15-8-18-4zM1393 157l0-2 2 2zM1396 160l3 3-3 0zM1399 166l0-3 2 3z"/>
<path fill="#00FFD8" fill-rule="evenodd" d="M1605 133l13 0 0 1zM1653 136l22 0 0 1zM1707 139l28 0 0 1zM1754 142l38 0 3 3 57 0 3 3 54 0 9 9 0 3 6 9 0 3 6 9 0 3 6 6 0 3 3 3 0 3 3 3 0 3 3 3 1 3 3 3 0 3 6 6 0 3 3 3 0 3 3 3 0 3 3 3 0 3 3 3 0 3 6 6 0 3 3 3 0 3 3 3 0 3 3 3 0 3 3 3 0 3 6 6 0 3 3 3 0 3 3 3 0 3 3 3 0 3 2 3 0 3 3 3 0 3 6 6 0 3 3 3 0 3 3 3 0 3 3 3 0 3 3 3 0 3 6 6 0 3 3 3 0 3 3 3 0 3 6 9 0 3 6 6 0 3 3 3 0 3 3 3 0 3 3 3 0 3 3 3 0 3 6 6 0 3 3 3 0 3 3 3 0 3 6 9 0 3 6 6 0 5-10-11-29-45-10-18-8-18-12-14-9-6-21-7-15 0-6 2-12 9-12 5-12 2-15 0-15-2-18-6-24-13-27-11-9-2-9-1-9 0-3 3-12 15-12 11-3 6 6 3 18 3 53 15 13 4 8 5 5 9 9 69 2 7 6 5-33 0-3-3-57 0-3-3-54 0-3-3-57 0-3-3-54 0-3-3-57 0-9-9 0-3-3-3 0-3-3-3 0-3-3-3 0-3-3-3 0-3-3-3 0-3-3-3 0-3-6-6 0-3-3-3 0-3-6-9 0-3-6-9 0-3-6-6 0-3-3-3 0-3-6-9 0-3-3-3 0-3-3-3 0-3-3-3 0-3-6-6 0-3-6-9 0-3-6-9 0-3-3-3 0-3-6-6 0-3-3-3 0-3-6-9 0-3-6-9 0-3-3-3 0-3-6-6 0-3-6-9 0-3-3-3 0-3-3-3 0-3-3-3 0-3-6-6 0-3-3-3 0-5 12 16 9 5 54 9 51 6 57-16 30-2 12-3 65-19 16-3 18-10 12-11 7-18-2-6zM1708 226l-4 3-2 6 4 6 8 5 9 4 12 3 12-1 3 0 2-2-2-6-3-6-15-12-12-2zM1411 190l0-2 1 2zM1414 193l2 3-2 0zM2084 466l2 0 0 2zM1915 487l0-2 23 2zM1975 490l0-2 17 2z"/>
<path fill="#00FF90" fill-rule="evenodd" d="M1783 160l18-2 18 1 21 4 21 5 42 16 23 12 19 12 0 3 3 3 0 3 6 6 0 3 3 3 0 3 3 3 0 3 3 3 0 3 3 3 0 3 6 6 0 3 3 3 0 3 3 3 0 3 3 3 0 3 3 3 0 3 6 6 0 3 3 3 0 3 3 3 0 3 3 3 2 6-8 6-9 6-12 3-15 3 2 12-2 6-9 6-12 5-18 2-18-3-21-6-18-10-14-12-4-6-1-6 0-3 4-6 14-9-13-9-22-12-50-21-3-3-3-9-5-9-18-18-5-15 0-6 2-6 21-18 10-12zM1595 226l20-1 36 6 36 12 34 16 29 18 22 18 10 12 6 9 1 6-1 6-8 9-21 20-6 3-12 0-27-2-30-6-33-11-30-14-28-17-23-18-15-18-8-15 0-9 2-6 3-3z"/>
<path fill="#00FF48" fill-rule="evenodd" d="M1806 187l16-2 18 1 18 3 21 7 20 9 19 11 18 13 13 12 12 15 5 12 1 12-1 6-4 6-8 6-15 5-15 1-22 0 7 0 2 3 4 1 12 6 18 14 9 12-1 6-1 3-9 6-10 3-12 1-15-1-15-4-14-5-11-6-11-9-5-6-2-6 0-3 4-6 9-6 12-5 20-1-8-2-18-7-45-24-15-12-14-15-10-18-2-9 1-6 2-6 5-8 8-4zM1593 235l10-2 12 0 30 4 33 10 33 15 29 18 20 18 7 9 5 9 2 9-2 6-13 12-9 5-12 2-15 0-24-3-24-6-24-9-24-11-21-12-18-14-14-15-8-12-2-9 2-9 12-9z"/>
<path fill="#00FF00" fill-rule="evenodd" d="M1848 217l13-1 18 2 21 7 15 7 12 9 10 12 2 9-2 9-6 6-7 3-21 4-24-3-15-5-12-6-9-6-8-8-6-9-2-9 0-6 4-8 9-6zM1611 244l22 0 27 6 25 9 26 13 21 14 15 15 8 15 1 6-2 6-7 6-12 4-15 2-15-1-18-3-21-7-19-7-20-10-16-11-14-12-10-12-3-9 0-9 4-8 9-5zM1874 307l8-2 15 2 15 5 12 5 12 8 7 6 5 9-1 6-5 5-6 3-18 2-21-3-20-7-17-12-4-6-2-6 1-5 5-4z"/>
<path fill="#48FF00" fill-rule="evenodd" d="M1853 226l11-2 15 1 15 3 15 7 10 6 8 9 3 9-2 9-4 4-6 3-18 3-21-2-20-8-15-12-4-6-2-6 0-6 4-6zM1622 256l17 0 18 3 21 6 21 10 16 11 13 12 6 12-1 9-4 4-9 4-12 1-12-1-27-6-30-13-22-16-8-9-4-6-1-6 2-8 6-5zM1881 310l10 0 12 2 23 10 8 6 5 6 3 6-2 6-9 6-16 1-21-3-16-7-9-6-5-6-4-9 7-8z"/>
<path fill="#90FF00" fill-rule="evenodd" d="M1856 232l11-3 12 0 12 3 12 5 11 7 5 6 3 9-1 6-9 6-15 2-18-2-15-6-12-9-6-9 2-9zM1633 271l9-2 15 1 14 4 14 6 10 6 10 9 5 9-1 6-7 4-15 0-18-4-15-6-14-9-9-9-3-9 2-3zM1876 316l9-3 6 0 21 6 11 6 7 6 4 6 0 6-2 3-5 2-12 2-15-2-15-5-9-6-8-9 0-6z"/>
<path fill="#D8FF00" fill-rule="evenodd" d="M1867 235l15 0 18 6 9 6 3 5 2 4-2 6-6 4-12 2-15-2-12-5-9-7-3-7 0-4 3-4zM1662 289l4-1 4 1 5 3 1 3-4 1-3-1-6-3zM1882 319l12-1 15 4 14 9 4 6 0 3-3 3-9 3-12-1-12-4-12-7-4-6 0-3 2-3z"/>
<path fill="#FFD800" fill-rule="evenodd" d="M1871 241l11-1 12 4 6 4 4 5-1 6-5 3-7 1-9-1-9-4-6-5-2-3 1-6zM1885 325l9-3 11 3 11 6 3 6-2 3-5 1-15-2-6-2-6-6-1-3z"/>
<path fill="#FF9000" fill-rule="evenodd" d="M1877 250l2-2 6 0 5 2 2 3-4 2-3 0-6-2zM1895 331l5-2 5 2 2 3-4 1-3 0z"/>
</g>
<clipPath id="cb2"><polygon points="1355.6,349.9 1882.4,378.4 2063.9,715.4 1537.1,686.9"/></clipPath>
<g clip-path="url(#cb2)">
<polygon points="1355.6,349.9 1882.4,378.4 2063.9,715.4 1537.1,686.9" fill="#0000FF"/>
<path fill="#0048FF" fill-rule="evenodd" d="M1355 344l4 3 54 0 3 3 57 0 3 3 54 0 3 3 57 0 3 3 54 0 3 3 57 0 3 3 54 0 3 3 57 0 3 3 54 0 9 9 0 3 6 9 0 3 6 9 0 3 6 6 0 3 3 3 0 3 6 9 0 3 3 3 0 3 6 6 0 3 6 9 0 3 3 3 0 3 3 3 0 3 6 6 0 3 3 3 0 3 3 3 0 3 3 3 0 3 3 3 0 3 6 6 0 3 3 3 0 3 3 3 0 3 6 9 0 3 3 3 0 3 6 6 0 3 3 3 0 3 3 3 0 3 3 3 0 3 3 3 0 3 6 6 0 3 3 3 0 3 3 3 0 3 3 3 0 3 3 3 0 3 6 6 0 3 3 3 0 3 6 9 0 3 3 3 0 3 6 6 0 3 3 3 0 3 6 9 0 3 3 3 0 3 6 6 0 3 3 3 0 3 3 3 0 3 3 3 0 3 3 3 0 3 3 3-6 6-3-3-57 0-3-3-54 0-3-3-57 0-3-3-54 0-3-3-57 0-3-3-54 0-3-3-57 0-3-3-54 0-3-3-57 0-10-9 0-3-3-3 0-3-3-3 0-3-3-3 0-3-6-9 0-3-3-3 0-3-6-6 0-3-3-3 0-3-6-9 0-3-6-9 0-3-6-6 0-3-6-9 0-3-3-3 0-3-6-9 0-3-3-3 0-3-6-6 0-3-6-9 0-3-3-3 0-3-3-3 0-3-3-3 0-3-6-6 0-3-3-3 0-3-3-3 0-3-3-3 0-3-6-9 0-3-3-3 0-3-6-6 0-3-3-3 0-3-3-3 0-3-3-3 0-3-6-9 0-3-6-6 0-3-3-3 0-3-3-3 0-3-3-3 0-3-3-3 0-3-3-3 0-3-3-3 0-3-6-6 0-3-3-3 0-3-6-9 0-3-3-3 0-3-6-9zM1767 569l-1 3 3 3 19 10 15 5 12 2 5-2-1-3-3-3-11-6-20-6z"/>
<path fill="#0090FF" fill-rule="evenodd" d="M1355 344l4 3 54 0 3 3 57 0 3 3 54 0 3 3 57 0 3 3 54 0 3 3 57 0 3 3 54 0 3 3 57 0 3 3 54 0 9 9 0 3 3 3 0 3 3 3 0 3 3 3 0 3 3 3 0 3 6 6 0 3 3 3 0 3 3 3 0 3 3 3 0 3 3 3 0 3 6 6 0 3 3 3 0 3 3 3 0 3 3 3 0 3 3 3 0 3 6 6 0 3 6 9 0 3 3 3 0 3 3 3 0 3 6 6 0 3 3 3 0 3 3 3 0 3 6 9 0 3 3 3 0 3 6 6 0 3 3 3 0 3 3 3 0 3 3 3 0 3 3 3 0 3 6 6 0 3 3 3 0 3 3 3 0 3 3 3 0 3 3 3 0 3 6 6 0 3 3 3 0 3 6 9 0 3 3 3 0 3 6 6 0 3 3 3 0 3 6 9 0 3 3 3 0 3 6 6 0 3 3 3 0 3 3 3 0 3 3 3 0 3 3 3 0 3 3 3-6 6-3-3-57 0-3-3-54 0-3-3-57 0-3-3-54 0-3-3-57 0-3-3-54 0-3-3-57 0-3-3-54 0-3-3-57 0-10-9 0-3-6-9 0-3-3-3 0-3-6-9 0-3-3-3 0-3-6-6 0-3-6-9 0-3-6-9 0-3-3-3 0-3-6-6 0-3-3-3 0-3-6-9 0-3-6-9 0-3-3-3 0-3-6-6 0-3-6-9 0-3-3-3 0-3-3-3 0-3-3-3 0-3-6-6 0-3-6-9 0-3-3-3 0-3-3-3 0-3-6-9 0-3-6-6 0-3-3-3 0-3-3-3 0-3-3-3 0-3-6-9 0-3-6-6 0-3-3-3 0-3-3-3 0-3-3-3 0-3-3-3 0-3-3-3 0-3-3-3 0-3-6-6 0-3-3-3 0-3-6-9 1-3-3-3 0-3-7-9zM1362 358l-1 4 7 5 6 3 4-2-1-3-6-5-6-2zM1578 392l-9 1-4 2-1 3 3 6 14 9 15 6 18 3 15 0 8-3 1-3-4-6-15-9-20-7zM1638 377l-3 3 3 6 6 6 12 6 12 5 12 2 9-1 4-3 0-6-5-6-14-9-9-3-12-2-9 0zM1746 553l-8 7-1 9 15 12 19 9 36 12 32 6 6 0 15-4 3-1 2-4-1-3-8-6-26-12-34-12zM1866 606l-2 2-1 6 3 9 15 21 12 12 24 6 27 1 12-1 6-3 1-3-1-9-7-12-11-10-12-8-15-6-15-4-18-2zM1929 577l-6 7 0 3 14 9 28 8 9-1 7-4 1-3-4-6-7-6-9-5-18-4z"/>
<path fill="#00D8FF" fill-rule="evenodd" d="M1356 344l3 3 54 0 3 3 57 0 3 3 54 0 3 3 57 0 3 3 54 0 3 3 57 0 3 3 54 0 3 3 57 0 3 3 54 0 9 9 0 3 6 9 0 3 6 9 0 3 6 6 0 3 3 3 0 3 6 9 0 3 3 3 0 3 6 6 0 3 3 3 0 3 6 9 0 3 3 3 0 3 6 6 0 3 6 9 0 3 3 3 0 3 3 3 0 3 6 6 0 3 3 3 0 3 3 3 0 3 6 9 0 3 3 3 0 3 6 6 0 3 3 3 0 3 3 3 0 3 3 3 0 3 3 3 0 3 6 6 0 3 3 3 0 3 3 3 0 3 3 3 0 3 3 3 0 3 6 6 0 3 3 3 0 3 6 9 0 3 3 3 0 3 6 6 0 3 3 3 0 3 6 9 0 3 3 3 0 3 6 6 0 3 3 3 0 3 3 3 0 3 3 3 0 3 3 3 0 3 3 3-6 6-3-3-57 0-3-3-54 0-3-3-57 0-3-3-54 0-3-3-57 0-3-3-54 0-3-3-57 0-3-3-54 0-3-3-57 0-10-9 0-3-6-9 0-3-6-9 0-3-3-3 0-3-3-3 0-3-6-6 0-3-6-9 0-3-6-9 0-3-3-3 0-3-6-6 0-3-3-3 0-3-6-9 0-3-6-9 0-3-3-3 0-3-6-6 0-3-3-3 0-3-6-9 0-3-6-9 0-3-6-6 0-3-6-9 0-3-6-9 0-3-6-9 0-3-6-6 0-3-3-3 0-3-3-3 0-3-3-3 0-3-6-9 0-3-6-6 0-3-3-3 0-3-3-3 0-3-3-3 0-3-3-3 0-3-3-3 1-3-3-3 0-3-6-6 0-3-3-3 0-3-3-3 0-5 5 5 16 19 24 9 12 0 9-2 4-5-1-9-9-9-21-13-36-12-6-1-6 1-3-2zM1575 362l-21 2-12 4-7 6-3 9 5 12 8 9 15 11 16 7 20 6 27 5 24 0 33-2 15-2 12-4 6-5 2-7 1-12-6-11-12-11-18-8-15-4-21-3-30 0-21-3zM1737 548l-6 3-3 4-2 11 2 11 12 10 15 9 63 20 14 7 25 10 9 6 15 20 6 5 21 9 15 2 27 2 18-2 9-2 11-8 11-12 13-27 0-9-11-18-22-21-11-7-9-3-30-2-21 20-6 1-12 0-27-4-58-20-59-18-3 0zM1359 368l0-2 1 2z"/>
<path fill="#00FFD8" fill-rule="evenodd" d="M1383 347l30 0 3 3 57 0 3 3 54 0 2 3-59-2-21-2-36-1zM1677 362l30 0 3 3 54 0 3 3 57 0 3 3 54 0 9 9 0 3 3 3 0 3 6 9 0 3 3 3 0 3 6 6 0 3 3 3 0 3 6 9 0 3 3 3 0 3 6 6 0 3 6 9 0 3 6 9 0 3 6 6 0 3 6 9 0 3 3 3 0 3 3 3 0 3 6 6 0 3 3 3 0 3 3 3 0 3 3 3 0 3 6 9 0 3 6 6 0 3 3 3 0 3 3 3 0 3 3 3 0 3 3 3 0 3 6 6 0 4-2-1-19-24-6-4-6-1-30-1-12 1-21 21-6 3-12 0-30-5-95-32-22-9-6 3-10 9-6 9-6 24 10 12 27 13 63 24 21 5 21 7 7 5 20 22 21 15 6 3 39 0 21-2 27-7 24-4 9-5 5-7 0-6-5-15 3 0 0 3 6 6 0 3 3 3 0 3 6 9 0 3 3 3 0 3 6 6 0 3 3 3 0 3 3 3 0 3 3 3 0 3 3 3 0 3 3 3-6 6-3-3-57 0-3-3-54 0-3-3-57 0-3-3-54 0-3-3-57 0-3-3-54 0-3-3-57 0-3-3-54 0-3-3-57 0-9-9 0-3-6-9 0-3-3-3 0-3-3-3 0-3-3-3 0-3-3-3 0-3-6-6 0-3-3-3 0-3-6-9 0-3-6-9 0-3-6-6 0-3-6-9 0-3-3-3 0-3-3-3 0-3-6-9 0-3-6-6 0-3-3-3 0-3-6-9 0-3-6-9 0-3-6-6 0-3-6-9 0-3-3-3 0-3-3-3 0-3-3-3 0-3-3-3 0-3-6-6 0-3-3-3 0-3-3-3 0-3-3-3 0-3-6-9 0-3-6-6 0-3-3-3 0-3-3-3 0-3-3-3 0-6 9 6 15 2 33-1 39-5 30 2 36 6 81 23 30 3 36-2 12-2 12-10 5-7 7-15 12-14 3-7-6-12-8-6-37-3zM1380 407l0-3 3 3z"/>
<path fill="#00FF90" fill-rule="evenodd" d="M1775 389l16-2 18 1 18 4 18 7 18 10 15 11 14 14 11 15 9 15 8 18 4 18 1 15-2 15-3 9-5 9-1 12-4 6-8 8-6 2-9 1-27-3-30-10-47-16-22-11-21-13-9-8-11-13-7-12-2-9 1-6 5-9 0-15 3-9 16-27 5-6 20-16zM1462 419l26-2 45 4 63 15 37 13 19 9 19 11 33 25 12 12 10 12 3 6-1 9-19 24-5 15-6 5-9 1-30 0-33-6-36-9-36-14-36-18-32-19-25-21-16-18-9-18-2-9 1-9 3-6 6-6z"/>
<path fill="#00FF48" fill-rule="evenodd" d="M1787 416l13-2 12 1 12 2 15 5 24 14 11 10 8 9 6 12 7 27 1 18-5 18 2 6 10 15 1 6-2 6-3 4-6 3-6 2-24-2-24-5-33-12-27-12-21-12-18-13-16-16-6-12-1-6 2-6 7-6 19-6 5-18 8-13 12-10zM1486 425l29 0 35 6 46 11 33 13 39 22 30 22 18 19 4 9 0 6-6 9-21 21-7 3-15 2-27-2-30-5-33-10-30-12-30-15-27-18-21-18-13-18-6-15 0-9 2-6 5-6 6-4 9-3z"/>
<path fill="#00FF00" fill-rule="evenodd" d="M1802 425l19 1 21 6 18 11 14 15 5 12-1 12-5 9-11 12-2 6 4 6 18 18 9 12 3 6 0 6-4 7-12 3-18-1-24-5-27-10-30-13-21-13-18-13-13-15-4-12 2-6 2-3 7-3 9-2 30 2 2-3-3-9-2-9 3-12 5-6 7-5zM1494 437l21-3 30 3 39 8 33 12 45 22 26 18 14 12 7 9 4 9 0 6-4 6-5 5-12 7-39 5-21-1-24-5-24-7-24-9-24-12-21-13-19-15-13-15-8-15 0-12 7-9z"/>
<path fill="#48FF00" fill-rule="evenodd" d="M1794 434l18-3 21 4 18 8 9 8 6 7 4 9 0 6-1 6-4 6-11 7-24 4-2 1 32 21 17 15 6 9 3 6 1 6-4 6-11 3-15 0-21-5-21-7-33-15-17-9-16-12-14-15-5-9 0-6 4-6 6-3 18-1 36 7 5 0-14-15-4-12 0-6 2-6 5-5zM1512 449l21-3 33 1 24 5 27 10 45 22 23 16 9 9 7 9 4 9 0 6-5 6-8 5-9 2-12 0-57-5-24-6-24-9-18-9-19-11-15-12-10-12-6-12 0-9 5-7z"/>
<path fill="#90FF00" fill-rule="evenodd" d="M1801 440l8-2 12 0 12 3 10 5 8 6 7 9 3 9-2 6-8 7-12 3-15-1-15-6-11-9-7-12-1-6 3-6zM1554 455l21 0 24 5 18 7 36 18 20 12 13 12 8 12 1 9-6 6-6 2-9 1-15-1-63-12-18-6-18-8-14-9-12-9-8-9-3-9 0-6 6-6 13-6zM1743 482l15-3 21 4 21 6 33 16 21 13 17 15 7 12 1 6-1 3-4 3-8 2-9 0-15-2-28-9-32-15-24-15-16-15-3-6-2-6 2-6z"/>
<path fill="#D8FF00" fill-rule="evenodd" d="M1810 446l14-1 9 3 7 4 6 6 4 6 0 6-2 3-6 4-9 2-12-3-9-4-8-8-3-6 2-7zM1562 464l13-2 18 2 18 6 19 9 23 12 18 12 10 12 1 9-2 4-6 3-9 0-12-1-51-14-24-9-17-10-6-6-4-6-1-6 1-6 5-6zM1755 485l15 0 21 5 47 22 14 9 13 12 5 9 0 6-1 3-6 3-6 1-12-1-12-3-18-6-37-18-21-15-10-12-1-6 0-3 3-3z"/>
<path fill="#FFD800" fill-rule="evenodd" d="M1816 455l8-1 9 3 3 4 1 3-1 3-6 2-10-2-6-6 0-3zM1577 473l10-2 11 2 23 9 29 15 8 6 8 9 0 6-7 3-12 0-45-14-15-6-10-7-6-9 1-7zM1763 491l13 0 13 3 46 21 13 9 9 9 3 6 0 6-4 3-5 1-18-2-16-5-35-18-14-9-11-12-1-6 1-3z"/>
<path fill="#FF9000" fill-rule="evenodd" d="M1604 491l4-2 4 2 3 3-7 0zM1771 500l8-2 10 2 35 15 18 12 5 6 0 6-8 3-12-2-11-4-25-12-10-6-9-9-3-6z"/>
</g>
<clipPath id="cb3"><polygon points="1326.8,573.2 1853.6,601.7 2035.1,938.7 1508.3,910.2"/></clipPath>
<g clip-path="url(#cb3)">
<polygon points="1326.8,573.2 1853.6,601.7 2035.1,938.7 1508.3,910.2" fill="#0000FF"/>
<path fill="#0048FF" fill-rule="evenodd" d="M1327 567l3 3 54 0 3 3 57 0 3 3 54 0 3 3 57 0 3 3 54 0 3 3 57 0 3 3 54 0 3 3 57 0 3 3 54 0 9 9 0 3 3 3 0 3 6 9 0 3 3 3 0 3 6 6 0 3 3 3 0 3 3 3 0 3 6 9 0 3 6 6 0 3 3 3 0 3 3 3 0 3 3 3 0 3 3 3 0 3 6 6 0 3 3 3 0 3 3 3 0 3 3 3 0 3 3 3 0 3 6 6 0 3 6 9 0 3 6 9 0 3 3 3 0 3 6 6 0 3 3 3 0 3 3 3 0 3 3 3 0 3 3 3 0 3 6 6 0 3 3 3 0 3 3 3 0 3 6 9 0 3 6 6 0 3 6 9 0 3 6 9 0 3 6 6 0 3 3 3 0 3 3 3 0 3 3 3 0 3 3 3 0 3 6 6 0 3 3 3 0 3 3 3 0 3 3 3 0 3 3 3 0 3 3 3-6 7-3-3-57 0-3-3-54 0-3-3-57 0-3-3-54 0-3-3-57 0-3-3-54 0-3-3-57 0-3-3-54 0-3-3-57 0-10-10 0-3-6-9 0-3-3-3 0-3-3-3 0-3-3-3 0-3-3-3 0-3-6-6 0-3-6-9 0-3-6-9 0-3-3-3 0-3-6-6 0-3-3-3 0-3-3-3 0-3-3-3 0-3-3-3 0-3-3-3 0-3-3-3 0-3-6-6 0-3-3-3 0-3-3-3 0-3-3-3 0-3-3-3 0-3-3-3 0-3-6-6 0-3-3-3 0-3-3-3 0-3-3-3 0-3-3-3 0-3-6-9 0-3-6-6 0-3-3-3 0-3-3-3 0-3-3-3 0-3-6-9 0-3-6-6 0-3-3-3 0-3-3-3 0-3-3-3 0-3-3-3 0-3-3-3 1-3-3-3 0-3-6-6 0-3-3-3 0-3-3-3 0-3-3-3 0-3-3-3 0-3-3-3 0-3-3-3zM1747 801l0 3 2 3 16 9 15 4 6-1 2-3-20-10-16-5z"/>
<path fill="#0090FF" fill-rule="evenodd" d="M1327 567l3 3 54 0 3 3 57 0 3 3 54 0 3 3 57 0 3 3 54 0 3 3 57 0 3 3 54 0 3 3 57 0 3 3 54 0 9 9 0 3 6 9 0 3 3 3 0 3 3 3 0 3 6 6 0 3 3 3 0 3 3 3 0 3 6 9 0 3 6 6 0 3 3 3 0 3 3 3 0 3 3 3 0 3 3 3 0 3 6 6 0 3 3 3 0 3 3 3 0 3 3 3 0 3 3 3 0 3 6 6 0 3 3 3 0 3 6 9 0 3 3 3 0 3 3 3 0 3 6 6 0 3 3 3 0 3 3 3 0 3 3 3 0 3 3 3 0 3 6 6 0 3 3 3 0 3 3 3 0 3 6 9 0 3 6 6 0 3 6 9 0 3 6 9 0 3 6 6 0 3 3 3 0 3 3 3 0 3 3 3 0 3 3 3 0 3 6 6 0 3 3 3 0 3 3 3 0 3 3 3 0 3 6 9-6 6-3-3-57 0-3-3-54 0-3-3-57 0-3-3-54 0-3-3-57 0-3-3-54 0-3-3-57 0-3-3-54 0-3-3-57 0-9-9 0-3-3-3 0-3-3-3 0-3-3-3 0-3-6-9 0-3-3-3 0-3-6-6 0-3-6-9 0-3-6-9 0-3-3-3 0-3-6-6 0-3-3-3 0-3-3-3 0-3-6-9 0-3-3-3 0-3-3-3 0-3-6-6 0-3-3-3 0-3-6-9 0-3-3-3 0-3-3-3 0-3-6-6 0-3-3-3 0-3-6-9 0-3-3-3 0-3-6-9 0-3-6-6 0-3-3-3 0-3-3-3 0-3-3-3 0-3-3-3 0-3-3-3 0-3-6-6 0-3-3-3 0-3-3-3 0-3-3-3 0-3-3-3 0-3-3-3 0-3-3-3 0-3-6-6 0-3-3-3 0-3-3-3 0-3-3-3 0-3-3-3 0-3-3-3 0-3-3-3zM1336 582l-3 2 0 4 6 7 9 8 8 3 10 2 10-2 0-3-1-3-10-9-14-6zM1588 587l-5 4 0 3 6 9 17 12 19 9 26 9 27 6 18-1 4-2 1-3-5-9-11-9-15-9-20-9-35-9-18-2zM1720 786l-3 1-1 5 2 6 5 6 16 12 17 9 21 7 21 4 15-2 4-3 1-3 0-3-2-3-35-18-28-10zM1933 813l-5 3-1 3 0 3 3 6 9 5 6 0 3-2 3-6-3-6-6-5z"/>
<path fill="#00D8FF" fill-rule="evenodd" d="M1327 567l3 3 54 0 3 3 57 0 3 3 54 0 3 3 57 0-4 9 1 6 9 12 12 9 24 12 45 16 36 7 21 0 9-2 7-9 1-6-3-6-11-11-21-13-18-9-27-9 36 0 3 3 54 0 3 3 57 0 3 3 54 0 9 9 0 3 6 9 0 3 3 3 0 3 3 3 0 3 6 6 0 3 3 3 0 3 3 3 0 3 6 9 0 3 6 6 0 3 3 3 0 3 3 3 0 3 3 3 0 3 3 3 0 3 6 6 0 3 3 3 0 3 3 3 0 3 3 3 0 3 3 3 0 3 6 6 0 3 6 9 0 3 3 3 0 3 6 9 0 3 6 6 0 3 3 3 0 3 3 3 0 3 3 3 0 3 3 3 0 3 6 6 0 3 3 3 0 3 3 3 0 3 6 9 0 3 6 6 0 3 6 9 0 3 6 9 0 3 6 6 0 3 3 3 0 3 3 3 0 3 3 3 0 3 3 3 0 3 6 6 0 3 3 3 0 3 3 3 0 3 3 3 0 3 6 9-6 6-3-3-57 0-3-3-54 0-3-3-57 0-3-3-54 0-3-3-57 0-3-3-54 0-3-3-57 0-3-3-54 0-3-3-57 0-9-9 0-3-6-9 0-3-6-9 0-3-6-9 0-3-6-6 0-3-6-9 0-3-6-9 0-3-3-3 0-3-6-6 0-3-6-9 0-3-3-3 0-3-6-9 0-3-3-3 0-3-6-6 0-3-6-9 0-3-3-3 0-3-6-9 0-3-6-6 0-3-3-3 0-3-6-9 0-3-3-3 0-3-6-9 0-3-6-6 0-3-3-3 0-3-3-3 0-3-3-3 0-3-6-9 0-3-6-6 0-3-3-3 0-3-3-3 0-3-3-3 0-3-3-3 0-3-3-3 0-3-3-3 0-3-6-6 0-4 9 8 14 5 13 2 12-1 6-2 4-5 2-6-2-6-13-12-12-6-36-8-6-1-6 1-3-1zM1498 594l-5 3-2 6 3 6 5 3 11 4 9 1 12-1 5-4 2-3-3-6-9-6-16-5-6 0zM1705 779l-9 4 0 6 3 7 20 20 13 9 18 11 24 7 30 4 18-3 8-7 2-6-2-6-11-9-18-9-30-13-33-11-24-5zM1834 687l-1 3 9 9 7 4 9 2 2-3 0-3-7-9-10-4zM1924 806l-8 4-4 6 2 9 7 10 9 5 15 4 9-2 9-6 2-5-1-6-4-6-9-8-12-5-9-1zM1336 603l0-2 1 2z"/>
<path fill="#00FFD8" fill-rule="evenodd" d="M1366 570l18 0 0 3zM1385 573l59 0 0 3zM1445 576l56 0 0 2-42 0zM1509 579l37 0-12 2zM1690 588l45 0 0 2-33 0zM1741 591l54 0 3 3 54 0 9 9 0 3 6 9 0 3 6 9 0 3 6 6 0 3 3 3 0 3 3 3 0 3 6 9 0 3 6 6 0 3 3 3 0 3 3 3 0 3 3 3 0 3 3 3 0 3 6 6 0 3 3 3 0 3 3 3 0 3 3 3 0 3 3 3 0 3 6 6 0 3 6 9 0 3 3 3 0 3 3 3 0 3 3 3 0 3 6 6 0 3 3 3 0 3 3 3 0 3 3 3 0 3 3 3 0 3 6 6 0 3 3 3 0 3 3 3 0 3-15-13-15-9-24-4-12 5-22 15-8 9 2 3 10 12 12 8 24 10 18 4 18 0 9-3 9-7 3-6 0-6 3 0 0 3 3 3 0 3 3 3 0 3 6 9 0 3 6 6 0 3 3 3 0 3 3 3 0 3 3 3 0 3 3 3 0 3 6 6 0 3 3 3 0 3 3 3 0 3 3 3 0 3 6 9-6 6-3-3-57 0-3-3-54 0-3-3-57 0-3-3-54 0-3-3-57 0-3-3-54 0-3-3-57 0-3-3-54 0-3-3-57 0-9-9 0-3-3-3 0-3-6-9 0-3-3-3 0-3-3-3 0-3-3-3 0-3-6-6 0-3-6-9 0-3-3-3 0-3-3-3 0-3-3-3 0-3-6-6 0-3-3-3 0-3-6-9 0-3-3-3 0-3-6-9 0-3-6-6 0-3-6-9 0-3-3-3 0-3-3-3 0-3-3-3 0-3-6-6 0-3-6-9 0-3-6-9 0-3-6-9 0-3-6-6 0-3-3-3 0-3-3-3 0-3-3-3 0-3-6-9 0-3-6-6 0-3-3-3 0-3-3-3 0-3-3-3 0-3-3-3 0-3-3-4 15 8 12 1 15 0 30-7 30-10 66 10 12 0 21-5 9 0 15 4 33 14 48 16 27 1 24 0 15-4 9-6 6-7 13-11 2-9-2-15-3-9zM1828 675l-7 3-2 6 2 3 10 12 12 8 36 13 9-4 7-5 1-6-2-6-6-9-8-6-10-4-24-5-9-1zM1639 657l-6 1-8 11 3 6 5 6 21 4 9-1 3-3 0-3-2-6-10-12-4-3zM1711 771l-21 9-13 3 1 9 6 12 13 15 14 11 24 15 54 22 36 4 15 0 15-3 12-7 5-6 1-6 0-6-2-9-4-6-9-4-21-5-36-18-29-12-40-13z"/>
<path fill="#00FF90" fill-rule="evenodd" d="M1453 627l45 4 23 5 20 6 44 18 51 30 15 4 15 0 6-4 6-6 0-6-7-15 1-1 45-3 21-9 12-3 15 0 16 4 14 6 11 9 4 6 1 15 15 15 17 11 18 7 18 9 7 6 12 15 8 12 5 15-1 9-7 11-17 7-13 12-6 1-33-9-60-23-45-16-15-5-6 1-15 8-13 4-21 3-20 7-18 2-21 0-24-3-24-5-24-8-42-17-39-24-29-24-10-12-8-12-4-12-1-9 1-9 5-9 8-6 8-3 24-7zM1597 651l6-2 12 2 6 3 2 3 0 3-5 4-12-2-8-5-2-3z"/>
<path fill="#00FF48" fill-rule="evenodd" d="M1452 642l19-1 21 1 24 4 24 7 33 12 90 42 2-2 0-3 4-1 6-8 13-9-1-9 3-3 36-4 27-9 12 0 9 2 14 8 5 6 6 12 10 9 19 14 32 19 10 9 14 18 6 18 10 12 0 6-3 4-9 3-25 5-11 0-30-9-96-34-18-5-3 1-18 12-18 5-33-3-24 4-24 0-27-4-30-8-33-14-30-17-23-18-18-21-5-9-3-9 1-9 2-6 4-6 8-6z"/>
<path fill="#00FF00" fill-rule="evenodd" d="M1496 654l29 2 30 8 21 8 65 30 25 15 19 15 8 12 1 6-2 6-11 9-15 3-18-2-39-7-36 0-18-3-18-4-36-15-22-14-18-15-11-15-4-12 1-9 5-6 4-3 16-6zM1755 678l7-3 6 2 5 10 4 3 33 18 31 21 17 18 5 9 3 9 19 12 8 6 3 6-2 3-6 4-12 2-18-1-15-3-96-32-27-12-15-10-18-16-10-13-3-6 0-3 4-6 6-5 12-5 45-3 8-2z"/>
<path fill="#48FF00" fill-rule="evenodd" d="M1505 663l23 1 27 6 21 8 60 27 20 12 17 15 8 12 0 6-1 3-5 5-9 3-24-2-57-14-42-6-30-12-16-10-10-9-7-9-3-9 2-9 6-9 9-6zM1694 690l11-1 18 3 48 13 24 9 15 9 15 12 10 12 4 12 3 3 25 8 12 6 9 7 2 6-5 5-9 2-12-1-12-2-15-5-21-10-24-5-21-6-48-22-25-16-10-9-7-9-3-6 3-6 6-5z"/>
<path fill="#90FF00" fill-rule="evenodd" d="M1517 672l20 0 21 5 70 31 16 9 15 12 6 9 1 6-2 3-4 4-9 1-21-2-81-25-18-7-18-12-9-13-1-9 3-6 4-3zM1696 693l15 0 18 4 60 25 15 9 13 10 7 9 7 14 24 5 14 5 13 9 2 3-1 3-5 3-8 1-21-3-16-7-14-9-21-2-21-6-54-24-25-16-13-15-2-6 1-3 6-6z"/>
<path fill="#D8FF00" fill-rule="evenodd" d="M1529 684l8-2 9 1 12 2 13 5 62 30 10 9 2 7-3 4-6 1-15-2-78-27-10-7-7-9-1-6 1-3zM1698 696l16 0 18 5 60 26 15 11 9 9 5 9-1 9-5 3-8 1-24-3-18-7-45-21-21-15-9-12-2-6 1-3zM1833 771l13-1 15 4 13 6 3 3 0 3-3 3-7 1-9-1-12-3-7-3-7-6-2-3z"/>
<path fill="#FFD800" fill-rule="evenodd" d="M1698 702l7-2 6-1 16 3 56 24 15 9 10 9 6 9 0 6-4 5-6 1-21-2-18-7-39-18-15-9-13-12-3-9zM1841 774l8 0 9 2 9 4 3 3-3 3-3 1-12-2-11-5-2-3z"/>
<path fill="#FF9000" fill-rule="evenodd" d="M1707 705l13-1 15 4 47 21 10 6 10 9 4 6 0 6-3 3-5 1-15-1-17-6-38-18-15-9-8-9-2-6 0-3zM1850 780l5-1 4 1-4 2z"/>
<path fill="#FF4800" fill-rule="evenodd" d="M1717 711l9 0 11 3 41 18 13 9 4 6 1 3-4 4-13-1-47-21-10-6-6-6-2-6z"/>
</g>
<text x="1473.5" y="93" font-size="51" text-anchor="middle">20</text>
<text x="1628.2" y="101.4" font-size="51" text-anchor="middle">40</text>
<text x="1783" y="109.8" font-size="51" text-anchor="middle">60</text>
<text x="1938.7" y="118.1" font-size="51" text-anchor="middle">80</text>
<text x="1293.7" y="91.2" font-size="51" text-anchor="middle">0</text>
<text x="1287" y="272.6" font-size="51" text-anchor="end">20</text>
<text x="1267.1" y="421.5" font-size="51" text-anchor="end">40</text>
<text x="1247.3" y="570.4" font-size="51" text-anchor="end">60</text>
<text x="2041.4" y="291.2" font-size="51" text-anchor="start">50</text>
<text x="2109.5" y="430.3" font-size="51" text-anchor="start">100</text>
<text x="1976.9" y="158.8" font-size="51" text-anchor="middle">0</text>
<text x="1638.8" y="48.1" font-size="53" text-anchor="middle" transform="rotate(3.1 1638.8 30.2)"><tspan font-style="italic">X</tspan>/cm</text>
<text x="1188.6" y="344.1" font-size="53" text-anchor="middle" transform="rotate(-82.4 1188.6 326.2)"><tspan font-style="italic">Y</tspan>/cm</text>
<text x="2145" y="298.9" font-size="53" text-anchor="middle" transform="rotate(61 2145 281)"><tspan font-style="italic">Z</tspan>/cm</text>
<text x="1424.4" y="1048.9" font-size="52" text-anchor="end">b. 99 DAS</text>
<g stroke="#000" stroke-linecap="butt" fill="none">
<g stroke-width="1.0">
<path d="M568,1383.2 L788.4,1745.9"/>
<path d="M788.4,1745.9 L1422.1,1768.6"/>
<path d="M551.4,1538.1 L771.9,1900.7"/>
<path d="M771.9,1900.7 L1405.6,1923.4"/>
<path d="M534.9,1692.9 L755.3,2055.6"/>
<path d="M755.3,2055.6 L1389,2078.3"/>
<path d="M661.8,1355.6 L605,1887.5"/>
<path d="M661.8,1355.6 L1295.5,1378.3"/>
<path d="M739.1,1482.7 L682.3,2014.6"/>
<path d="M739.1,1482.7 L1372.8,1505.4"/>
<path d="M963.4,1596.7 L906.6,2128.6"/>
<path d="M742.9,1234.1 L963.4,1596.7"/>
<path d="M1121.8,1602.4 L1065,2134.3"/>
<path d="M901.4,1239.8 L1121.8,1602.4"/>
<path d="M1280.2,1608.1 L1223.4,2140"/>
<path d="M1059.8,1245.4 L1280.2,1608.1"/>
</g>
<g stroke-width="3.8" stroke-linejoin="miter" stroke-linecap="square">
<path d="M527.7,1760.3 L584.5,1228.4 L1218.2,1251.1 L1437.2,1612.8 L1383.3,2146.6 L749.6,2123.9 L527.7,1760.3"/>
<path d="M584.5,1228.4 L805,1591.1 L1437.2,1612.8 M805,1591.1 L749.6,2123.9"/>
</g>
<g stroke-width="3.2">
<path d="M742.9,1234.1 L741,1252"/>
<path d="M901.4,1239.8 L899.4,1257.6"/>
<path d="M1059.8,1245.4 L1057.9,1263.3"/>
<path d="M1218.2,1251.1 L1216.3,1269"/>
<path d="M568,1383.2 L585,1383.9"/>
<path d="M551.4,1538.1 L568.4,1538.7"/>
<path d="M534.9,1692.9 L551.9,1693.6"/>
<path d="M1295.5,1378.3 L1277.5,1377.6"/>
<path d="M1372.8,1505.4 L1354.8,1504.8"/>
</g>
</g>
<clipPath id="cc1"><polygon points="630.6,1242.5 1175.6,1261.6 1362.9,1571.2 817.9,1552.1"/></clipPath>
<g clip-path="url(#cc1)">
<polygon points="630.6,1242.5 1175.6,1261.6 1362.9,1571.2 817.9,1552.1" fill="#0048FF"/>
<path fill="#0090FF" fill-rule="evenodd" d="M630 1236l4 3 87 0 3 3 87 0 3 3 87 0 3 3 90 0 3 3 87 0 3 3 87 0 9 10 0 2 3 4 0 2 6 6 0 4 6 6 0 2 3 4 0 2 6 6 0 4 3 2 0 4 6 6 0 2 3 4 0 2 6 6 0 4 6 6 0 2 3 4 0 2 6 6 0 4 3 2 0 4 6 6 0 2 3 4 0 2 6 6 0 4 6 6 0 2 3 4 0 2 6 6 0 4 3 2 0 4 6 6 0 2 3 4 0 2 6 6 0 4 6 6 0 2 3 4 0 2 6 6 0 4 3 2 0 4 6 6 0 2 3 4 0 2 6 6 0 4 6 6 0 2 3 4 0 2 6 6 0 4 3 2 0 4 6 6 0 2 3 4 0 2 6 6 0 4 6 6 0 2 6 10-6 6-3-3-87 0-3-3-90 0-3-3-87 0-3-3-87 0-3-3-90 0-3-3-87 0-10-10 0-2-3-4 0-2-6-6 0-4-3-2 0-4-6-6 0-2-3-4 0-2-6-6 0-4-3-2 0-4-6-6 0-2-3-4 0-2-6-6 0-4-3-2 0-4-6-6 0-2-3-4 0-2-6-6 0-4-3-2 0-4-6-6 0-2-3-4 0-2-6-6 0-4-3-2 0-4-6-6 0-2-6-6 0-4-3-2 0-4-6-6 0-2-3-4 0-2-6-6 0-4-3-2 0-4-6-6 0-2-3-4 0-2-6-6 0-4-3-2 0-4-6-6 0-2-3-4 0-2-6-6 0-4-3-2 0-4-6-6 0-2-3-4 0-2-6-6 0-4-3-2 0-4-6-6 0-2-6-10zM733 1293l-4 3 0 4 3 2 16 8 12 3 12 0 9-1 6-4 0-2-6-6-15-6-18-3zM769 1251l-10 3-1 4 8 6 18 6 18 4 18 1 15-2 6-3 0-4-6-6-17-6-22-3zM868 1278l-6 4 1 6 4 6 13 8 12 6 15 4 12 0 4-4 0-2-4-6-17-12-19-8zM934 1257l-5 3 2 6 9 8 12 7 12 4 9 2 9-1 5-4 0-6-4-6-13-10-18-4zM1012 1346l-1 2 0 2 2 4 13 8 15 6 10 0 2-2-2-4-13-8-14-7-9-1z"/>
<path fill="#00D8FF" fill-rule="evenodd" d="M630 1236l4 3 87 0 3 3 87 0 3 3 87 0 3 3 23 0-17 3-69-2-39-5-27-1-24 1-27 4-8 6-10 24-1 16 4 9 15 9 21 9 60 2 6 3 17 15 7 3 9-5 15-14 6-2 15-1 18 2 27 1 24 9 78 36 15 5 15 3 7 0 5-4 3-6 0-2-3-5-9-6-63-36-10-7 0-6 2-4 23-15 5-5 2-6-4-10-9-8-6-4-53-6 47 0 3 3 87 0 3 3 87 0 9 10 0 2 3 4 0 2 6 6 0 4 6 6 0 2 3 4 0 2 6 6 0 4 3 2 0 4 6 6 0 2 3 4 0 2 6 6 0 4 6 6 0 2 3 4 0 2 6 6 0 4 3 2 0 4 6 6 0 2 3 4 0 2 6 6 0 4 6 6 0 2 3 4 0 2 6 6 0 4 3 2 0 4 6 6 0 2 3 4 0 2 6 6 0 4 6 6 0 2 3 4 0 2 6 6 0 4 3 2 0 4 6 6 0 2 3 4 0 2 6 6 0 4 6 6 0 2 3 4 0 2 6 6 0 4 3 2 0 4 6 6 0 2 3 4 0 2 6 6 0 4 6 6 0 2 6 10-6 6-3-3-87 0-3-3-90 0-3-3-87 0-3-3-87 0-3-3-90 0-3-3-87 0-10-10 0-2-3-4 0-2-6-6 0-4-3-2 0-4-6-6 0-2-3-4 0-2-6-6 0-4-3-2 0-4-6-6 0-2-3-4 0-2-6-6 0-4-3-2 0-4-6-6 0-2-3-4 0-2-6-6 0-4-3-2 0-4-6-6 0-2-3-4 0-2-6-6 0-4-3-2 0-4-6-6 0-2-6-6 0-4-3-2 0-4-6-6 0-2-3-4 0-2-6-6 0-4-3-2 0-4-6-6 0-2-3-4 0-2-6-6 0-4-3-2 0-4-6-6 0-2-3-4 0-2-6-6 0-4-3-2 0-4-6-6 0-2-3-4 1-2-7-6 1-4-4-2 1-4-7-6 1-2-7-10zM1252 1451l-19 11 5 6 8 5 15 8 18 5 15 0 5-4 0-6-3-6-13-12-16-6-12-2z"/>
<path fill="#00FFD8" fill-rule="evenodd" d="M631 1236l3 3 78 1-12 1-63 0-6 2-3 6 0-3-3-4zM1019 1252l65-1 3 3 87 0 9 10 0 2 3 4 0 2 6 6 0 4 6 6 0 2 3 4 0 2 6 6 0 4 3 2 0 4 6 6 0 2 3 4 0 2 6 6 0 4 6 6 0 2 3 4 0 2 6 6 0 4 3 2 0 4 6 6 0 2 3 4 0 2 6 6 0 4 6 6 0 2 3 4 0 2 6 6 0 4 3 2 0 4 6 6 0 2 3 4 0 2 6 6 0 6-6-7-6-2-24 2-15 12-26 11-3 2 2 22-3 8-12 22-1 5 2 9 4 10 5 6 23 19 8 5-59 0-3-3-87 0-3-3-87 0-3-3-90 0-3-3-87 0-9-10 0-2-3-4 0-2-6-6 0-4-3-2 0-4-6-6 0-2-3-4 0-2-6-6 0-4-3-2 0-4-6-6 0-2-3-4 0-2-6-6 0-4-3-2 0-4-6-6 0-2-3-4 0-2-6-6 0-4-3-2 0-4-6-6 0-2-3-4 0-2-6-6 0-4-3-2 0-4-6-6 0-2-6-6 0-4-3-2 0-4-6-6 0-2-3-4 0-2-6-6 0-4-3-2 0-4-6-6 0-2-3-4 0-2-6-6 0-4-3-2 0-4-6-6 0-2-3-4 0-5 24 32 6 4 12 3 39 7 90 8 24-19 6-2 21-2 33 3 15 3 15 5 75 35 39 6 12 0 9-3 6-5 4-10-2-8-6-6-29-25-12-9-15-8-3-4-1-2 3-6 6-6 28-22 3-6-1-6-5-5-6-2zM1084 1445l-20 19 0 4 3 2 8 6 27 8 12 0 18-4 7-6 1-6-1-6-4-7-6-5-18-5-15-1zM646 1278l0-1 1 1zM649 1282l2 2-2 0zM652 1288l0-3 1 3zM655 1290l2 4-2 0zM658 1296l0-2 5 8-2 1-3-3zM1291 1446l3 0 3 4 0 4zM1298 1456l2 0 0 1zM1321 1494l3 0 0 4zM1325 1500l2 0 0 3zM1327 1504l3 0 0 3zM1331 1510l2 0 0 2zM1337 1518l2 0 0 3zM1346 1534l2 0 0 2zM1365 1564l4 6-3 3-3-1 2-2zM1273 1572l0-1 29 1z"/>
<path fill="#00FF90" fill-rule="evenodd" d="M1109 1320l14-2 15 0 18 4 18 7 16 9 9 10 5 8-1 10-2 3-6 4-18 4-24-3-24-8-18-12-11-12-2-6 1-6 4-6zM880 1342l15-1 21 1 12 2 19 6 35 16 40 20 15 10 20 14 27-5 12 0 15 3 9-10 12-4 15-3 21 1 27 6 24 10 12 7 9 7 5 6 2 6-4 6-9 7-24 11-9 1-18-2-24-7-15-7-21-12-13 3-29 2-6 2-15 17-9 6-21 0-30-6-38-11-37-17-34-19-27-22-15-18-2-6 1-2 5-6 9-7 9-4z"/>
<path fill="#00FF48" fill-rule="evenodd" d="M1120 1330l9-3 12 0 12 2 12 4 12 7 8 8 3 6 0 6-2 2-5 4-13 1-15-1-15-5-13-7-9-10-1-8zM893 1348l23 1 24 6 35 13 29 16 23 14 17 16 11 14 1 6-1 6-6 6-10 4-15 1-21-3-21-6-23-8-22-9-21-11-19-12-15-12-11-12-6-10 0-8 6-6 9-4zM1141 1398l12-1 15 0 18 4 15 4 15 7 11 8 8 8 2 6-1 3-8 7-24 10-18-1-23-7-23-12-8-6-7-8-1-6 2-6 6-6z"/>
<path fill="#00FF00" fill-rule="evenodd" d="M1138 1338l9 0 12 4 8 6 1 2-1 4-8 2-15-4-7-4-2-4 0-2zM893 1360l14-3 21 3 28 8 27 12 25 16 18 14 9 12 0 6-1 4-7 5-6 1-21 0-30-8-33-14-25-14-20-18-6-10-1-6 3-6zM1148 1404l11-1 12 0 27 7 13 6 9 6 5 6 1 6-1 4-9 5-15 5-18-1-18-6-18-9-7-6-3-6-1-6 2-4 3-2z"/>
<path fill="#48FF00" fill-rule="evenodd" d="M906 1366l13-1 15 3 42 18 32 22 7 8 0 6-3 3-6 1-18-1-21-5-22-10-20-12-20-18-4-8 1-4zM1158 1410l19 0 21 6 12 10 4 6-1 2-6 6-12 2-13-2-14-4-13-8-5-6 0-6 2-2z"/>
<path fill="#90FF00" fill-rule="evenodd" d="M915 1374l4-2 6 0 15 6 10 6 8 6 20 12 7 6-3 2-6 0-21-8-10-6-14-6-9-6-6-6zM1167 1420l7-2 12 2 10 6 1 2-1 4-7 2-13-2-9-6-1-4z"/>
</g>
<clipPath id="cc2"><polygon points="606.8,1472.9 1151.8,1492.0 1339.1,1801.6 794.1,1782.5"/></clipPath>
<g clip-path="url(#cc2)">
<polygon points="606.8,1472.9 1151.8,1492.0 1339.1,1801.6 794.1,1782.5" fill="#0048FF"/>
<path fill="#0090FF" fill-rule="evenodd" d="M607 1467l3 3 87 0 3 3 87 0 3 3 87 0 3 3 90 0 3 3 87 0 3 3 87 0 9 9 0 3 3 3 0 3 6 6 0 3 6 6 0 3 3 3 0 3 6 6 0 3 3 3 0 3 6 6 0 3 3 3 0 3 6 6 0 3 6 6 0 3 3 3 0 3 6 6 0 3 3 3 0 3 6 6 0 3 3 3 0 3 6 6 0 3 6 6 0 3 3 3 0 3 6 6 0 3 3 3 0 3 6 6 0 3 3 3 0 3 6 6 0 3 6 6 0 3 3 3 0 3 6 6 0 3 3 3 0 3 6 6 0 3 3 3 0 3 6 6 0 3 6 6 0 3 3 3 0 3 6 6 0 3 3 3 0 3 6 6 0 3 3 3 0 3 6 6 0 3 6 6 0 3 6 9-6 6-3-3-87 0-3-3-90 0-3-3-87 0-3-3-87 0-3-3-90 0-3-3-87 0-9-9 0-3-3-3 0-3-6-6 0-3-3-3 0-3-6-6 0-3-3-3 0-3-6-6 0-3-3-3 0-3-6-6 0-3-3-3 0-3-6-6 0-3-3-3 0-3-6-6 0-3-3-3 0-3-6-6 0-3-3-3 0-3-6-6 0-3-3-3 0-3-6-6 0-3-3-3 0-3-6-6 0-3-6-6 0-3-3-3 0-3-6-6 0-3-3-3 0-3-6-6 0-3-3-3 0-3-6-6 0-3-3-3 0-3-6-6 0-3-3-3 0-3-6-6 0-3-3-3 0-3-6-6 0-3-3-3 0-3-6-6 0-3-3-3 0-3-6-6 0-3-3-3 0-3-6-6 0-3-6-9zM613 1475l-2 1 0 3 8 9 12 5 5-2-1-6-7-6-6-3zM775 1485l-14 3-1 3 2 3 12 9 17 9 18 6 47 11 12 1 5-3-1-6-5-6-12-9-17-9-27-9-21-3zM934 1491l-9 2-4 4 0 6 7 7 9 5 12 3 9-1 6-4 1-4 0-3-7-8-12-6zM1063 1680l-6 3-2 3 2 9 4 3 84 30 14 1 7-4 1-3-2-6-6-6-6-3-81-29zM1213 1682l-18 10 7 9 10 6 19 7 18 3 14-1 7-5 0-4-3-6-13-12-6-3-11-2zM1279 1769l-5 4 1 6 4 6 7 6 13 6 10 2 12 0 6-2 1-3-3-6-14-12-17-7-9-1z"/>
<path fill="#00D8FF" fill-rule="evenodd" d="M624 1470l73 0 3 3 87 0 3 3 87 0 3 3 90 0 3 3 87 0 3 3 87 0 9 9 0 3 3 3 0 3 6 6 0 3 6 6 0 3 3 3 0 3 6 6 0 3 3 3 0 3 6 6 0 3 3 3 0 3 6 6 0 3 6 6 0 3 3 3 0 3 6 6 0 3 3 3 0 3 6 6 0 3 3 3 0 3 6 6 0 3 6 6 0 3 3 3 0 3 6 6 0 3 3 3 0 3 6 6 0 3 3 3 0 3 6 6 0 3 6 6 0 3 3 3 0 3 6 6 0 3 3 3 0 3 6 6 0 3 3 3 0 3 6 6 0 3 6 6 0 3 3 3 0 3 6 6 0 3 3 3 0 3 6 6 0 3 3 3 0 3 6 6 0 5-9-11-33-51-12-24-12-13-9-7-9-2-33-4-18 11-13 6-11 2-24 0-18-4-33-10-30-8-15 2-11 6-4 9 3 12-1 3 1 1 27 14 54 17 15 7 15 8 21 18 9 2 36 1 9 1 6 3 33 25 9 3 16 2-43 0-3-3-90 0-3-3-87 0-3-3-87 0-3-3-90 0-3-3-87 0-9-9 0-3-3-3 0-3-6-6 0-3-3-3 0-3-6-6 0-3-3-3 0-3-6-6 0-3-3-3 0-3-6-6 0-3-3-3 0-3-6-6 0-3-3-3 0-3-6-6 0-3-3-3 0-3-6-6 0-3-3-3 0-3-6-6 0-3-3-3 0-3-6-6 0-3-3-3 0-3-6-6 0-3-6-6 0-3-3-3 0-3-6-6 0-3-3-3 0-3-6-6 0-3-3-3 0-3-6-6 0-3-3-3 0-3-6-6 0-3-3-3 0-3-6-6 0-3-3-3 0-3-6-6 0-3-3-3 0-3-6-6 0-3-3-3 0-3-6-6 0-3-3-3 0-4 12 10 12 11 6 3 21 2 12-6 7-7-1-9-2-6-7-9-6-3-33-3zM745 1476l-12 2-4 4 1 9 5 6 4 3 93 31 42 15 39 17 15 4 21 0 7-4 5-9-2-12 1-6 6-6 21-15 5-9 0-6-5-6-24-9-8-2-102-1-69-6zM1333 1785l3 0 3 3 0 5zM1339 1794l3 0 0 3 3 3-3 3-3 0 1-3z"/>
<path fill="#00FFD8" fill-rule="evenodd" d="M681 1470l16 0 0 1zM990 1482l70 0 3 3 87 0 9 9 0 3 3 3 0 3 6 6 0 3 6 6 0 3 3 3 0 3 6 6 0 3 3 3 0 3 6 6 0 3 3 3 0 3 6 6 0 3 6 6 0 3 3 3 0 3 6 6 0 3 3 3 0 3 6 6 0 3 3 3 0 3 6 6 0 3 6 6 0 3 3 3 0 3 6 6 0 3 3 3 0 3 6 6 0 3 3 3 0 4-48-2-6 7-18 10-15 5-15 1-15-1-21-5-60-21-21 6-12 8-8 15-4 4-9 2-24-3-11 3 3 12 23 44 6 6 21 12 36 19 9 3 39 2 21 2 36 1 21 2 33 1 10 1-76 0-3-3-87 0-3-3-87 0-3-3-90 0-3-3-87 0-9-9 0-3-3-3 0-3-6-6 0-3-3-3 0-3-6-6 0-3-3-3 0-3-6-6 0-3-3-3 0-3-6-6 0-3-3-3 0-3-6-6 0-3-3-3 0-3-6-6 0-3-3-3 0-3-6-6 0-3-3-3 0-3-6-6 0-3-3-3 0-3-6-6 0-3-3-3 0-3-6-6 0-3-6-6 0-3-3-3 0-3-6-6 0-3-3-3 0-3-6-6 0-3-3-3 0-3-6-6 0-3-3-3 0-3-6-6 0-3-3-3 0-3-6-6 0-3-3-3 0-3-6-6 0-3-3-3 0-6 6 5 6 3 24 1 24-14 12-3 21-3 24 3 28 8 53 17 84 34 61 21 17 4 9 0 8-4 2-3 1-6-2-6-9-15-2-6 2-6 13-18 8-5 10-4 3-3 7-12 1-9-3-8-6-4zM625 1515l0-3 3 3zM628 1518l0-3 3 3z"/>
<path fill="#00FF90" fill-rule="evenodd" d="M715 1518l18-2 15 1 69 19 84 34 78 29 24 12 21 14 0-2-5-12 0-9 3-6 9-6 11-3 15-1 27 3 15 3 42 16 32 18 13 9 12 12 7 9 0 6-3 6-22 12-15 4-15 0-24-5-30-10-25-10-23-13-2 1 1 3-2 4-22 11-14 15-6 2-18 1-15 3-15-2-99-38-36-16-48-23-37-23-16-12-17-15-11-12-4-9 1-6 4-3zM1035 1530l13-2 18 3 24 8 20 9 15 9 15 12 6 9 1 6-2 3-4 3-9 2-21-1-27-8-27-11-23-15-10-12 0-6 2-3z"/>
<path fill="#00FF48" fill-rule="evenodd" d="M721 1527l15-3 12 1 21 4 30 8 27 9 72 29 56 21 25 12 24 15 20 18 3 6 0 3-2 3-21 15-27 8-9 1-30-9-78-30-73-33-26-15-21-15-16-15-11-15-1-6 1-6zM1056 1548l4-2 9 0 19 5 12 6 8 6 4 6 0 3-4 3-6 0-23-6-12-6-8-6-4-6zM1043 1593l17-2 24 2 24 6 27 10 26 14 21 15 14 15 2 6-1 3-5 6-15 8-12 4-12 1-30-6-38-13-19-9-13-9-14-12-7-9-4-9 0-9 5-7z"/>
<path fill="#00FF00" fill-rule="evenodd" d="M747 1536l10-1 12 1 44 12 132 54 24 12 18 12 15 15 3 6 0 3-4 6-12 6-13 4-12-1-33-9-99-39-49-24-19-12-14-12-10-12-4-9 3-8zM1048 1599l18-3 21 2 24 6 24 9 23 13 16 12 14 15 1 6 0 3-6 6-11 6-10 3-9 1-12-1-21-5-34-13-26-15-10-9-8-9-5-9 0-6 2-6z"/>
<path fill="#48FF00" fill-rule="evenodd" d="M771 1551l7-1 12 0 24 7 45 18 40 18 47 22 14 8 11 9 5 6 1 6-1 3-6 3-6 1-24-4-75-27-42-18-29-15-20-15-5-6-3-6 0-6zM1066 1602l15 0 21 4 21 7 18 8 18 11 14 12 6 9 2 6-1 3-6 6-6 3-9 3-12 0-33-8-32-13-14-9-11-9-7-9-3-6 0-6 3-6 7-4z"/>
<path fill="#90FF00" fill-rule="evenodd" d="M809 1569l17 2 18 7 62 36-2 1-6-1-24-6-39-14-12-6-15-10-4-6zM1071 1608l16 0 18 3 18 6 18 9 14 9 12 12 4 9-1 6-3 3-8 3-9 1-12-1-26-6-25-12-18-12-8-9-3-6 0-6 1-3 4-3zM921 1623l4-2 15 4 7 4 2 3 0 3-6 1-6-2-10-5z"/>
<path fill="#D8FF00" fill-rule="evenodd" d="M1081 1614l12 0 15 3 15 5 13 7 10 6 9 9 4 6 0 7-3 3-6 3-15 0-18-4-21-9-18-12-6-6-3-6 1-6 2-3z"/>
<path fill="#FFD800" fill-rule="evenodd" d="M1084 1623l9-2 9 0 23 8 10 6 7 6 4 6 0 6-6 3-11 0-13-3-14-6-10-6-7-6-3-6 0-3z"/>
<path fill="#FF9000" fill-rule="evenodd" d="M1097 1632l2-2 6-1 12 3 10 6 5 6-2 3-4 1-12-2-14-8z"/>
</g>
<clipPath id="cc3"><polygon points="583.0,1703.3 1128.0,1722.4 1315.3,2032.0 770.3,2012.9"/></clipPath>
<g clip-path="url(#cc3)">
<polygon points="583.0,1703.3 1128.0,1722.4 1315.3,2032.0 770.3,2012.9" fill="#0048FF"/>
<path fill="#0090FF" fill-rule="evenodd" d="M583 1697l3 3 87 0 3 3 87 0 3 3 87 0 3 3 90 0 3 3 87 0 3 3 87 0 9 9 0 3 3 3 0 3 6 6 0 3 6 6 0 3 3 3 0 3 6 6 0 3 3 3 0 3 6 6 0 3 3 3 0 3 6 6 0 3 6 6 0 3 3 3 0 3 6 6 0 3 3 3 0 3 6 6 0 3 3 3 0 3 6 6 0 3 6 6 0 3 3 3 0 3 6 6 0 3 3 3 0 3 6 6 0 3 3 3 0 3 6 6 0 3 6 6 0 3 3 3 0 3 6 6 0 3 3 3 0 3 6 6 0 3 3 3 0 3 6 6 0 3 6 6 0 3 3 3 0 3 6 6 0 3 3 3 0 3 6 6 0 3 3 3 0 3 6 6 0 3 6 6 0 3 6 9-6 7-3-3-87 0-3-3-90 0-3-4-87 1-3-3-87 0-3-3-90 0-3-3-87 0-9-10 0-3-3-3 0-3-6-6 0-3-3-3 0-3-6-6 0-3-3-3 0-3-6-6 0-3-3-3 0-3-6-6 0-3-3-3 0-3-6-6 0-3-3-3 0-3-6-6 0-3-3-3 0-3-6-6 0-3-3-3 0-3-6-6 0-3-3-3 0-3-6-6 0-3-3-3 0-3-6-6 0-3-6-6 0-3-3-3 0-3-6-6 0-3-3-3 0-3-6-6 0-3-3-3 0-3-6-6 0-3-3-3 0-3-6-6 0-3-3-3 0-3-6-6 0-3-3-3 0-3-6-6 0-3-3-3 0-3-6-6 0-3-3-3 0-3-6-6 0-3-3-3 0-3-6-6 0-3-6-9zM595 1710l-2 2 2 6 6 7 9 5 9 3 9 1 7-1 4-3-2-6-13-9-17-5zM907 1723l-2 1 0 3 2 3 6 4 12 3 4-1 3-3-3-6-4-3-9-2zM1027 1910l-4 3-1 3 4 9 9 9 17 9 95 36 63 21 12 2 9 0 6-2 6-6 0-6-7-9-8-6-12-6-72-27-15-4-69-23-21-5zM1228 1928l-6 3 6 12 6 1 6-3 1-4-3-6-4-3z"/>
<path fill="#00D8FF" fill-rule="evenodd" d="M583 1697l3 3 87 0 3 3 87 0 3 3 87 0 3 3 90 0 3 3 87 0 3 3 87 0 9 9 0 3 3 3 0 3 6 6 0 3 6 6 0 3 3 3 0 3 6 6 0 3 3 3 0 3 6 6 0 3 3 3 0 3 6 6 0 3 6 6 0 3 3 3 0 3 6 6 0 3 3 3 0 3 6 6 0 3 3 3 0 3 6 6 0 3 6 6 0 3 3 3 0 3 6 6 0 3 3 3 0 3 6 6 0 3 3 3 0 3 6 6 0 3 6 6 0 3 3 3 0 3 6 6 0 3 3 3 0 3 6 6 0 3 3 3 0 3 6 6 0 3 6 6 0 3 3 3 0 3 6 6 0 3 3 3 0 3 6 6 0 3 3 3 0 3 6 6 0 3 6 6 0 3 6 9-6 6-3-3-87 0-3-3-90 0-3-3-87 0-3-3-87 0-3-3-90 0-3-3-87 0-9-9 0-3-3-3 0-3-6-6 0-3-3-3 0-3-6-6 0-3-3-3 0-3-6-6 0-3-3-3 0-3-6-6 0-3-3-3 0-3-6-6 0-3-3-3 0-3-6-6 0-3-3-3 0-3-6-6 0-3-3-3 0-3-6-6 0-3-3-3 0-3-6-6 0-3-3-3 0-3-6-6 0-3-6-6 0-3-3-3 0-3-6-6 0-3-3-3 0-3-6-6 0-3-3-3 0-3-6-6 0-3-3-3 0-3-6-6 0-3-3-3 0-3-6-6 0-3-3-3 0-3-6-6 0-3-3-3 0-3-6-6 0-3-3-3 0-3-6-6 0-5 16 14 8 4 30 1 36-18 7-5 7-9-2-3-9-2-75-6-24 0-3 1-3 4-3-3zM709 1709l-9 3 2 6 7 9 15 7 24 8 30 4 18 1 31-5 7-3 3-3-1-6-5-6-22-9-16-4-12-2zM877 1715l-14 6-2 3 2 3 16 9 43 17 24 5 27 4 12-2 4-3 1-3-2-9-6-8-33-19-9-2-30-2zM1015 1895l-20 18-1 6 2 3 7 6 36 22 39 16 63 24 63 19 18 4 12 1 12-3 21-12 4-5 2-6-2-12-7-21-16-27-5-4-9-6-12 1-10 3-4 6 1 12-2 2-24 1-33-7-33-9-30-10-48-19zM1111 1796l-8 3-3 6 4 9 11 9 18 9 26 9 12 2 6-2 4-3 1-6-2-5-5-7-7-5-33-16-18-3zM922 1790l-3 0-2 3 2 3 6 3 9 2 7-2 0-3-4-3zM589 1724l0-2 2 2z"/>
<path fill="#00FFD8" fill-rule="evenodd" d="M820 1706l33 0 0 2zM975 1712l61 0 0 2-48 0zM1045 1715l81 0 9 9 0 3 3 3 0 3 6 6 0 3 6 6 0 3 3 3 0 3 6 6 0 5-6-6-6 1-6-1-48-18-21-10-14-10-5-6zM607 1754l0-1 1 1zM610 1757l5 6-2 0-3-3zM742 1757l21-1 39 3 45 0 15-2 12 2 21 6 6 4 3 3 1 6-2 12 2 6 8 6 15 5 18 0 5-2 7-5 27-8 27 0 45 4 9 3 15 8 24 19 15 9 27 11 18 4 30 1 6-1 2-3 0-3-7-15 2 0 3 3 0 3 3 3 0 3 6 6 0 3 6 6 0 3 3 3 0 3 6 6 0 3 3 3 0 3 6 6 0 3 3 3 0 3 6 6 0 3 6 6 0 3-9-6-6-1-9 0-4 4-17 9-9 11-12 4-18-1-24-4-39-11-87-33-36 29-24 7-8 4 4 9 10 8 72 40 69 41 10 4-70 0-3-3-87 0-3-3-90 0-3-3-87 0-9-9 0-3-3-3 0-3-6-6 0-3-3-3 0-3-6-6 0-3-3-3 0-3-6-6 0-3-3-3 0-3-6-6 0-3-3-3 0-3-6-6 0-3-3-3 0-3-6-6 0-3-3-3 0-3-6-6 0-3-3-3 0-3-6-6 0-3-3-3 0-3-6-6 0-3-3-3 0-3-6-6 0-3-6-6 0-3-3-3 0-3-6-6 0-3-3-3 0-3-6-6 0-3-3-3 0-3-6-6 0-3-3-3 0-3-6-6 0-3-3-3 0-3-6-6 0-3-3-3 0-5 6 7 6 2 18 0 57-6 24-7zM1160 1769l2 0 0 3zM1166 1778l2 0 0 5zM1169 1784l2 0 0 4zM1173 1790l1 0 0 3zM1174 1793l3 0 0 5zM1178 1799l2 0 3 3 0 5zM1184 1808l2 0 0 4zM1187 1814l2 0 0 3zM1189 1817l3 0 0 5zM1193 1823l2 0 0 4zM1281 1964l1 0 0 3zM1284 1970l1 0 0 3zM1289 1979l2 0 0 4zM1293 1985l1 0 0 3zM1298 1994l2 0 0 4zM1302 2000l1 0 0 2zM1307 2009l2 0 0 3zM1311 2015l1 0 0 2zM1312 2018l3 0 0 3 6 9-6 6-3-3-87 0 0-1 81-1 4-1 3-3 1-3zM1132 2030l0-1 66 0 16 1z"/>
<path fill="#00FF90" fill-rule="evenodd" d="M739 1766l18-2 24 0 27 4 27 6 45 17 81 42-3-13 2-6 7-6 9-3 15-1 18 1 44 9 43 16 60 29 19 12 20 15 13 12 2 6-3 6-12 10-9 6-12 2-24-2-24-5-33-10-61-25-26-12-1 0 0 6-4 6-19 16-6 3-21 5-15 7-6 0-12-1-36-8-42-15-39-19-35-21-29-24-18-21-7-12-2-9 1-6 4-6 10-6zM859 1766l6-2 9 2 5 3 2 3-1 3-6 2-6-2-6-3-3-3z"/>
<path fill="#00FF48" fill-rule="evenodd" d="M757 1775l24-1 30 4 39 10 39 15 48 23 29 18 13 12 10 12 5 9-1 6-6 6-11 8-24 7-15 2-24-2-24-5-27-9-27-11-28-14-24-15-22-18-14-15-8-15-1-12 6-9zM991 1817l21-2 30 5 33 9 36 15 35 18 26 18 20 18 3 6 0 6-6 7-12 5-15 0-21-2-46-13-56-24-17-9-13-9-14-12-7-9-6-9 0-9 3-5z"/>
<path fill="#00FF00" fill-rule="evenodd" d="M774 1790l19-3 33 4 36 8 30 12 42 20 25 16 13 12 6 9 4 9-2 6-6 6-16 7-9 2-12 0-24-4-27-7-24-7-22-9-23-12-19-12-15-12-12-12-7-12-1-9 3-6zM1008 1829l16-1 27 4 24 6 30 12 24 12 48 30 9 9 2 6-1 3-4 4-9 3-36-3-36-10-29-12-35-18-32-24-5-6-1-6 2-6z"/>
<path fill="#48FF00" fill-rule="evenodd" d="M804 1802l25-1 27 4 27 9 34 15 22 12 18 15 9 12 2 6-2 6-5 5-9 4-9 1-15-1-18-4-27-8-38-15-31-18-11-9-7-9-5-9 0-6 6-6zM1010 1835l8-2 12 1 63 21 75 35 10 8 4 6-1 3-2 3-5 2-12 0-54-14-18-7-74-38-8-9-1-6z"/>
<path fill="#90FF00" fill-rule="evenodd" d="M823 1814l12-2 18 0 18 5 18 7 33 16 16 10 11 12 2 6-1 6-3 3-7 3-21-1-36-11-27-10-23-14-12-12-3-6-1-6zM1015 1838l9-1 9 1 66 25 66 29 8 6 2 6-4 4-12 0-75-27-42-17-21-11-8-9 0-3z"/>
<path fill="#D8FF00" fill-rule="evenodd" d="M851 1823l11 0 12 3 39 18 10 6 7 6 3 6-1 3-7 4-12-1-37-12-14-6-14-9-7-9 0-3 2-3zM1020 1841l10 0 20 6 112 48 5 3 1 3-3 3-9-1-108-40-26-13-4-6z"/>
<path fill="#FFD800" fill-rule="evenodd" d="M1027 1844l6 1 16 5 32 17 28 10-1 2-8-2-22-9-36-11-14-7-3-3zM1109 1880l2-1 4 1z"/>
</g>
<text x="732.9" y="1208.8" font-size="51" text-anchor="middle">20</text>
<text x="891.4" y="1214.5" font-size="51" text-anchor="middle">40</text>
<text x="1049.8" y="1220.2" font-size="51" text-anchor="middle">60</text>
<text x="1213.2" y="1225.8" font-size="51" text-anchor="middle">80</text>
<text x="551.5" y="1210.6" font-size="51" text-anchor="middle">0</text>
<text x="547.5" y="1390" font-size="51" text-anchor="end">20</text>
<text x="530.9" y="1544.8" font-size="51" text-anchor="end">40</text>
<text x="514.4" y="1699.7" font-size="51" text-anchor="end">60</text>
<text x="1319.1" y="1394.3" font-size="51" text-anchor="start">50</text>
<text x="1389.2" y="1517.1" font-size="51" text-anchor="start">100</text>
<text x="1253.2" y="1266.8" font-size="51" text-anchor="middle">0</text>
<text x="899.9" y="1164.7" font-size="53" text-anchor="middle" transform="rotate(2.1 899.9 1146.8)"><tspan font-style="italic">X</tspan>/cm</text>
<text x="450.2" y="1474.6" font-size="53" text-anchor="middle" transform="rotate(-83.9 450.2 1456.7)"><tspan font-style="italic">Y</tspan>/cm</text>
<text x="1410.5" y="1388.2" font-size="53" text-anchor="middle" transform="rotate(61 1410.5 1370.3)"><tspan font-style="italic">Z</tspan>/cm</text>
<text x="683.4" y="2120.5" font-size="52" text-anchor="end">c. 122 DAS</text>
<g stroke="#000" stroke-linecap="butt" fill="none">
<g stroke-width="1.0">
<path d="M1662.3,1400.4 L1896.8,1782.4"/>
<path d="M1896.8,1782.4 L2523.6,1804.3"/>
<path d="M1644.8,1552.8 L1879.3,1934.9"/>
<path d="M1879.3,1934.9 L2506.1,1956.8"/>
<path d="M1627.2,1705.3 L1861.7,2087.3"/>
<path d="M1861.7,2087.3 L2488.5,2109.2"/>
<path d="M1761.6,1381 L1700.8,1908.5"/>
<path d="M1761.6,1381 L2388.4,1402.9"/>
<path d="M1843.3,1514.1 L1782.5,2041.6"/>
<path d="M1843.3,1514.1 L2470.1,1536"/>
<path d="M2071.1,1635.4 L2010.3,2162.9"/>
<path d="M1836.6,1253.4 L2071.1,1635.4"/>
<path d="M2227.8,1640.9 L2167,2168.4"/>
<path d="M1993.3,1258.8 L2227.8,1640.9"/>
<path d="M2384.5,1646.4 L2323.7,2173.9"/>
<path d="M2150,1264.3 L2384.5,1646.4"/>
</g>
<g stroke-width="3.8" stroke-linejoin="miter" stroke-linecap="square">
<path d="M1619.1,1775.4 L1679.9,1247.9 L2306.7,1269.8 L2540.7,1651.3 L2480.9,2179.9 L1854.1,2158 L1619.1,1775.4"/>
<path d="M1679.9,1247.9 L1914.4,1630 L2540.7,1651.3 M1914.4,1630 L1854.1,2158"/>
</g>
<g stroke-width="3.2">
<path d="M1836.6,1253.4 L1834.5,1271.3"/>
<path d="M1993.3,1258.8 L1991.2,1276.7"/>
<path d="M2150,1264.3 L2147.9,1282.2"/>
<path d="M2306.7,1269.8 L2304.6,1287.7"/>
<path d="M1662.3,1400.4 L1679.3,1401"/>
<path d="M1644.8,1552.8 L1661.7,1553.4"/>
<path d="M1627.2,1705.3 L1644.2,1705.9"/>
<path d="M2388.4,1402.9 L2370.4,1402.3"/>
<path d="M2470.1,1536 L2452.1,1535.4"/>
</g>
</g>
<clipPath id="cd1"><polygon points="1723.9,1259.9 2262.8,1278.4 2464.5,1607.2 1925.6,1588.7"/></clipPath>
<g clip-path="url(#cd1)">
<polygon points="1723.9,1259.9 2262.8,1278.4 2464.5,1607.2 1925.6,1588.7" fill="#0048FF"/>
<path fill="#0090FF" fill-rule="evenodd" d="M1724 1254l3 3 87 0 3 3 87 0 3 3 84 0 3 3 87 0 3 3 87 0 3 3 87 0 9 9 0 3 3 3 0 3 6 6 0 3 6 6 0 3 3 3 0 3 6 6 0 3 3 3 0 3 6 6 0 3 6 6 0 3 3 3 0 3 6 6 0 3 3 3 0 3 6 6 0 3 6 6 0 3 3 3 0 3 6 6 0 3 3 3 0 3 6 6 0 3 6 6 0 3 3 3 0 3 6 6 0 3 3 3 0 3 6 6 0 3 3 3 0 3 6 6 0 3 6 6 0 3 3 3 0 3 6 6 0 3 3 3 0 3 6 6 0 3 6 6 0 3 3 3 0 3 6 6 0 3 3 3 0 3 6 6 0 3 6 6 0 3 3 3 0 3 6 6 0 3 3 3 0 3 6 6 0 3 6 6 0 3 6 9-6 6-3-3-87 0-3-3-87 0-3-3-84 0-3-3-87 0-3-3-87 0-3-3-87 0-9-9 0-3-3-3 0-3-6-6 0-3-6-6 0-3-3-3 0-3-6-6 0-3-3-3 0-3-6-6 0-3-6-6 0-3-3-3 0-3-6-6 0-3-3-3 0-3-6-6 0-3-6-6 0-3-3-3 0-3-6-6 0-3-3-3 0-3-6-6 0-3-6-6 0-3-3-3 0-3-6-6 0-3-3-3 0-3-6-6 0-3-3-3 0-3-6-6 0-3-6-6 0-3-3-3 0-3-6-6 0-3-3-3 0-3-6-6 0-3-6-6 0-3-3-3 0-3-6-6 0-3-3-3 0-3-6-6 0-3-6-6 0-3-3-3 0-3-6-6 0-3-3-3 0-3-6-6 0-3-6-6 0-3-6-9zM1811 1296l-8 3-3 6 2 6 10 9 17 8 15 4 12 1 4-1 5-3 1-6-2-6-5-6-9-6-21-8zM1865 1269l-8 3 0 3 8 6 12 4 9 2 9-1 9-2 4-3 0-3-2-3-7-3-16-3zM2006 1274l-2 4 5 6 9 6 13 6 23 6 8 0 6-3-1-6-4-6-15-9-9-3-15-2-9 0zM2069 1355l-2 1 0 3 2 3 19 12 44 18 10 0 1-3-1-3-7-6-25-15-23-9z"/>
<path fill="#00D8FF" fill-rule="evenodd" d="M1724 1254l3 3 87 0 3 3 87 0 3 3 84 0 3 3 3 0-10 3-3 3 2 6 10 9 16 10 39 16 51 8 9-1 3-3 0-3-10-12-7-15-6-6-10-6-9-3-47-6 56 0 3 3 87 0 3 3 87 0 9 9 0 3 3 3 0 3 6 6 0 3 6 6 0 3 3 3 0 3 6 6 0 3 3 3 0 3 6 6 0 3 6 6 0 3 3 3 0 3 6 6 0 3 3 3 0 3 6 6 0 3 6 6 0 3 3 3 0 3 6 6 0 3 3 3 0 3 6 6 0 3 6 6 0 3 3 3 0 3 6 6 0 3 3 3 0 3 6 6 0 3 3 3 0 3 6 6 0 3 6 6 0 3 3 3 0 3 6 6 0 3 3 3 0 3 6 6 0 3 6 6 0 3 3 3 0 3 6 6 0 3 3 3 0 3 6 6 0 3 6 6 0 3 3 3 0 3 6 6 0 3 3 3 0 3 6 6 0 3 6 6 0 3 3 3 0 3 3 3-6 6-3-3-87 0-3-3-87 0-3-3-84 0-3-3-87 0-3-3-87 0-3-3-87 0-9-9 0-3-3-3 0-3-6-6 0-3-6-6 0-3-3-3 0-3-6-6 0-3-3-3 0-3-6-6 0-3-6-6 0-3-3-3 0-3-6-6 0-3-3-3 0-3-6-6 0-3-6-6 0-3-3-3 0-3-6-6 0-3-3-3 0-3-6-6 0-3-6-6 0-3-3-3 0-3-6-6 0-3-3-3 0-3-6-6 0-3-3-3 0-3-6-6 0-3-6-6 0-3-3-3 0-3-6-6 0-3-3-3 0-3-6-6 0-3-6-6 0-3-3-3 0-3-6-6 0-3-3-3 0-3-6-6 0-3-6-6 0-3-3-3 0-3-6-6 0-3-3-3 0-3-6-6 0-3-6-6 0-3-6-9zM1847 1263l-30 5-15 12-24 11-5 8 1 6 13 12 21 13 21 9 60 20 9-5 13-10 6-9-16-11-11-10-2-6 1-6 5-6 13-4 14-8 7-9 1-3-3-3-4-1-35-5-22-2zM2048 1347l-4 6 2 3 4 3 41 21 26 12 16 6 23 6 6-1 4-5-2-9-8-8-54-33-9-2-33-2-6 0z"/>
<path fill="#00FFD8" fill-rule="evenodd" d="M1724 1254l3 3 82 0-13 1-36 0-12 6-8 8 0 6 1 6 27 51 5 6 8 4 111 29 30-13 11-8 6-9 4-4 12-2 18 2 30 6 24 7 99 47 39 10 6-1 9-8 4-6 2-9-3-6-3-4-36-24-6-6-5-8-1-6 1-6 14-15 3-6 0-6-5-12-7-11-6-4-37-3 76 0 3 3 87 0 9 9 0 3 3 3 0 3 6 6 0 3 6 6 0 3 3 3 0 3 6 6 0 3 3 3 0 3 6 6 0 3 6 6 0 3 3 3 0 3 6 6 0 3 3 3 0 3 6 6 0 3 6 6 0 3 3 3 0 3 6 6 0 3 3 3 0 3 6 6 0 3 6 6 0 3 3 3 0 3 6 6 0 3 3 3 0 3 6 6 0 3 3 3 0 3 6 6 0 3 6 6 0 3 3 3 0 3 6 6 0 3 3 3 0 3 6 6 0 3 6 6 0 3 3 3 0 3 6 6 0 3 3 3 0 3 6 6 0 3 6 6 0 3 3 3 0 3 6 6 0 3 3 3 0 3 6 6 0 3 6 6 0 3 6 9-6 6-3-3-87 0-3-3-87 0-3-3-84 0-3-3-87 0-3-3-87 0-3-3-87 0-9-9 0-3-3-3 0-3-6-6 0-3-6-6 0-3-3-3 0-3-6-6 0-3-3-3 0-3-6-6 0-3-6-6 0-3-3-3 0-3-6-6 0-3-3-3 0-3-6-6 0-3-6-6 0-3-3-3 0-3-6-6 0-3-3-3 0-3-6-6 0-3-6-6 0-3-3-3 0-3-6-6 0-3-3-3 0-3-6-6 0-3-3-3 0-3-6-6 0-3-6-6 0-3-3-3 0-3-6-6 0-3-3-3 0-3-6-6 0-3-6-6 0-3-3-3 0-3-6-6 0-3-3-3 0-3-6-6 0-3-6-6 0-3-3-3 0-3-6-6 0-3-3-3 0-3-6-6 0-3-6-6 0-3-6-9zM2357 1478l-16 7-7 6 3 12 11 11 12 6 15 5 24 0 9-2 2-5-3-6-23-28-6-4-6-2-9-1zM2360 1547l-7 4-5 9 4 9 11 9 12 4 15 2 10-3 6-6 1-3-1-6-7-9-27-9zM1941 1263l28 0-14 1zM1932 1287l14 0 24 5 10 4 8 6 7 9 1 6-1 6-4 3-6 3-15 1-30-6-12-5-13-11-2-6 0-3 2-3z"/>
<path fill="#00FF90" fill-rule="evenodd" d="M1946 1302l11 0 10 3 8 6 2 3-1 2-3 2-6 1-9-1-9-3-6-4-2-3 1-3zM2146 1329l7-2 11 2 7 3 4 3 2 3-3 3-3 0-12-1-11-5-2-3zM2204 1335l15 0 15 3 18 6 17 9 13 9 8 9 5 9-1 6-1 3-5 4-7 2-20 0-24-6-24-12-19-15-6-12 0-6 2-3 5-4zM1956 1353l11-2 27 1 36 10 42 17 51 25 48 15 27 19 3 0 5-7 9-6 22-6 18-1 18 0 33 6 24 9 17 10 12 12 3 6 0 6-2 3-18 8-22 13-2 3 0 6-3 3-6 1-51 0-17-10-19-6-9 1-9 4-3 4-1 9-14 2-21-1-45-5-36-7-42-15-39-19-21-13-40-29-24-21-8-12 0-3 2-3 22-9zM2263 1512l13 1 16 8 10 9 3 6-1 3-4 3-12 0-11-3-10-6-8-6-4-6 1-6z"/>
<path fill="#00FF48" fill-rule="evenodd" d="M2218 1344l21 3 21 9 14 12 4 6 0 6-2 3-6 2-12 1-18-4-18-8-14-12-4-9 3-6zM1973 1362l24-3 33 9 38 15 55 26 30 10 19 12 20 18 16 21 1 3-1 6-14 6-11 10-18 1-21-1-30-4-30-7-30-10-27-11-30-17-28-18-25-21-13-15-1-6 6-6 22-15zM2236 1425l19-2 18 0 21 3 18 6 19 8 12 9 7 9 2 6-1 3-27 16-15 5-30-2-33-8-15-7-9-7-8-9-2-6 0-9 5-6 8-5z"/>
<path fill="#00FF00" fill-rule="evenodd" d="M2228 1356l9 0 9 3 9 6 2 3 1 4-3 2-6 1-13-4-5-3-6-6-1-3zM1986 1368l8-1 9 1 36 9 49 21 52 24 18 12 15 15 7 12 1 6-1 6-6 6-15 4-21 1-24-2-24-6-24-7-27-11-24-12-21-12-21-15-16-15-8-12-1-6 7-8 9-4zM2240 1431l15-3 15 0 18 2 15 4 15 6 14 9 7 9 1 6-4 6-9 6-18 6-24 0-26-6-15-6-10-6-6-6-4-6-1-6 2-6 6-5z"/>
<path fill="#48FF00" fill-rule="evenodd" d="M1981 1380l10-3 9 0 27 5 21 7 55 24 23 12 16 12 10 12 2 6 0 6-5 6-8 3-12 1-18-1-33-7-42-17-33-18-16-12-9-9-6-9-2-9 5-6zM2262 1434l26 2 22 7 13 9 4 6 1 6-4 5-7 4-17 3-24-1-21-7-15-10-4-6 0-6 4-6 6-3z"/>
<path fill="#90FF00" fill-rule="evenodd" d="M2001 1395l11-3 18 3 48 18 19 9 15 9 10 9 3 9-1 3-5 3-17 1-22-4-29-10-27-14-16-12-9-12 0-6zM2256 1443l17-3 21 4 15 8 4 6 1 3-2 3-4 3-11 3-12 0-15-3-13-6-6-6-1-6 1-3z"/>
<path fill="#D8FF00" fill-rule="evenodd" d="M2018 1404l3-1 4 1 8 6-3 1-6-1-5-3zM2054 1422l12-1 12 3 12 7 2 3-1 3-7 1-12-3-7-4-8-8zM2272 1449l7-1 9 2 7 5 1 3-3 3-5 1-12-2-8-5-1-3z"/>
</g>
<clipPath id="cd2"><polygon points="1698.1,1487.2 2237.0,1505.8 2438.7,1834.5 1899.8,1816.1"/></clipPath>
<g clip-path="url(#cd2)">
<polygon points="1698.1,1487.2 2237.0,1505.8 2438.7,1834.5 1899.8,1816.1" fill="#0048FF"/>
<path fill="#0090FF" fill-rule="evenodd" d="M1698 1481l3 3 87 0 3 3 87 0 3 3 84 0 3 3 87 0 3 3 87 0 3 3 87 0 9 9 0 3 3 3 0 3 6 6 0 3 6 6 0 3 3 3 0 3 6 6 0 3 3 3 0 3 6 6 0 3 6 6 0 3 3 3 0 3 6 6 0 3 3 3 0 3 6 6 0 3 6 6 0 3 3 3 0 3 6 6 0 3 3 3 0 3 6 6 0 3 6 6 0 3 3 3 0 3 6 6 0 3 3 3 0 3 6 6 0 3 3 3 0 3 6 6 0 3 6 6 0 3 3 3 0 3 6 6 0 3 3 3 0 3 6 6 0 3 6 6 0 3 3 3 0 3 6 6 0 3 3 3 0 3 6 6 0 3 6 6 0 3 3 3 0 3 6 6 0 3 3 3 0 3 6 6 0 3 6 6 0 3 6 9-6 6-3-3-87 0-3-3-87 0-3-3-84 1-3-3-87 0-3-3-87 0-3-3-87 0-9-10 0-3-3-3 0-3-6-6 0-3-6-6 0-3-3-3 0-3-6-6 0-3-3-3 0-3-6-6 0-3-6-6 0-3-3-3 0-3-6-6 0-3-3-3 0-3-6-6 0-3-6-6 0-3-3-3 0-3-6-6 0-3-3-3 0-3-6-6 0-3-6-6 0-3-3-3 0-3-6-6 0-3-3-3 0-3-6-6 0-3-3-3 0-3-6-6 0-3-6-6 0-3-3-3 0-3-6-6 0-3-3-3 0-3-6-6 0-3-6-6 0-3-3-3 0-3-6-6 0-3-3-3 0-3-6-6 0-3-6-6 0-3-3-3 0-3-6-6 0-3-3-3 0-3-6-6 0-3-6-6 0-3-6-9zM1707 1493l-1 3 3 6 10 9 12 8 11 4 13 3 9 0 4-3-1-6-5-6-18-12-19-6-12-1zM1848 1502l-6 3 1 6 11 9 12 6 14 3 16 2 15-1 5-4-1-6-6-6-19-9-24-4zM2010 1505l-6 2-3 4 4 9 8 7 12 5 12 2 9-1 5-4 0-3-2-6-10-9-14-6zM2184 1720l-1 1 2 3 5 3 9 3 6-3-2-3-7-4-9-1zM2325 1714l-3 4 1 3 3 6 7 6 7 4 9 2 6-1 4-2 1-3-1-6-8-9-14-5-6-1z"/>
<path fill="#00D8FF" fill-rule="evenodd" d="M1726 1484l62 0 3 3 87 0 3 3 84 0 3 3 87 0 3 3 87 0 3 3 87 0 9 9 0 3 3 3 0 3 6 6 0 3 6 6 0 3 3 3 0 3 6 6 0 3 3 3 0 3 6 6 0 3 6 6 0 3 3 3 0 3 6 6 0 3 3 3 0 3 6 6 0 3 6 6 0 3 3 3 0 3 6 6 0 3 3 3 0 3 6 6 0 3 6 6 0 3 3 3 0 3 6 6 0 3 3 3 0 3 6 6 0 3 3 3 0 3 6 6 0 3 6 6 0 3 3 3 0 3 6 6 0 3 3 3 0 3 6 6 0 3 6 6 0 3 3 3 0 3 6 6 0 3 3 3 0 3 6 6 0 3 6 6 0 3 3 3 0 3 6 6 0 3 3 3 0 3 6 6 0 3 6 6 0 3 6 9-6 6-3-3-87 0-3-3-87 0-3-3-84 0-3-3-87 0-3-3-87 0-3-3-87 0-9-9 0-3-3-3 0-3-6-6 0-3-6-6 0-3-3-3 0-3-6-6 0-3-3-3 0-3-6-6 0-3-6-6 0-3-3-3 0-3-6-6 0-3-3-3 0-3-6-6 0-3-6-6 0-3-3-3 0-3-6-6 0-3-3-3 0-3-6-6 0-3-6-6 0-3-3-3 0-3-6-6 0-3-3-3 0-3-6-6 0-3-3-3 0-3-6-6 0-3-6-6 0-3-3-3 0-3-6-6 0-3-3-3 0-3-6-6 0-3-6-6 0-3-3-3 0-3-6-6 0-3-3-3 0-3-6-6 0-3-6-6 0-3-3-3 0-3-6-6 0-3-3-3 0-4 12 10 12 7 18 5 18 4 66 2 48-1 69 9 15-1 27-4 12-1 15 0 36 5 18 1 6-2 6-6 2-6-2-9-7-9-13-9-13-6-12-4-33-2-21 1-18-2-45 0-27-3-123-4zM2322 1705l-12 10-6 3-21 4-54-1-21-5-21-6-21-3-12 2-4 3-1 3 4 6 9 6 46 15 6 5 12 15 6 2 12 1 102-7 30-3 6-3 1-4-3-9-10-16-9-10-6-4-9-3-12-1zM2019 1559l-6 6 1 3 23 18 6 3 27 9 6 2 3 0 1-2-14-9-9-15-5-5-24-12zM2346 1787l-3 3 1 3 7 9 37 22 12 5 11 3 11 0 7-3 0-6-5-8-6-7-6-4-12-5-33-10-12-2z"/>
<path fill="#00FFD8" fill-rule="evenodd" d="M2066 1496l79 0 3 3 87 0 9 9 0 3 3 3 0 3 6 6 0 3 6 6 0 3 3 3 0 3 6 6 0 3 3 3 0 3 6 6 0 3 6 6 0 3 3 3 0 3 6 6 0 3 3 3 0 3 6 6 0 3 6 6 0 3 3 3 0 3 6 6 0 3 3 3 0 3 6 6 0 3 6 6 0 3 3 3 0 3 6 6 0 3 3 3 0 3 6 6 0 3 3 3 0 3 6 6 0 5-6-4-6-2-21 3-3 1-15 10-15 7-12 3-12 2-36-4-57-16-15-1-9 1-3 2-11 11-3 9-2 12 51 84 8 12-22 0-3-3-87 0-3-3-87 0-3-3-87 0-9-9 0-3-3-3 0-3-6-6 0-3-6-6 0-3-3-3 0-3-6-6 0-3-3-3 0-3-6-6 0-3-6-6 0-3-3-3 0-3-6-6 0-3-3-3 0-3-6-6 0-3-6-6 0-3-3-3 0-3-6-6 0-3-3-3 0-3-6-6 0-3-6-6 0-3-3-3 0-3-6-6 0-3-3-3 0-3-6-6 0-3-3-3 0-3-6-6 0-3-6-6 0-3-3-3 0-3-6-6 0-3-3-3 0-3-6-6 0-3-6-6 0-3-3-3 0-3-6-6 0-3-3-3 0-3-6-6 0-3-6-6 0-4 18 17 12 4 54 0 27-6 39-2 27 1 30 5 45 11 21 6 21 9 24 14 42 20 9 1 18 1 16-5 3-6-1-9-7-18-1-6 2-9 11-15 1-6-1-6-8-12-24-17-9-4zM2220 1600l-2 4 2 6 8 6 10 5 12 4 12 2 9-1 2-4-1-3-5-6-17-9-18-4zM1719 1532l0-1 1 1zM2360 1700l1 0 0 1zM2404 1772l2 0 0 4zM2407 1778l2 0 3 3 0 6zM2412 1787l3 0 0 4z"/>
<path fill="#00FF90" fill-rule="evenodd" d="M1842 1556l30-2 27 2 45 7 39 9 27 11 37 18 25 15 28 20 3 1 8-3 0-6 6-6 19-8 33-1 27 5 51 23 30 17 13 9 13 12 7 9 1 6-4 6-21 12-12 3-15 1-21-3-33-9-42-17-21 5-5 8-13 12-6 16-3 2-9 4-21 2-24-1-27-4-30-7-48-17-44-22-42-27-31-27-13-15-9-15-5-12-1-12 2-9 7-6 10-4zM2169 1577l6 0 9 2 14 7 5 6-3 12-4 2-11-2-7-3-9-6-5-6-2-6 1-3z"/>
<path fill="#00FF48" fill-rule="evenodd" d="M1871 1562l22 1 24 2 42 7 27 8 23 9 29 15 54 36 8 4 18-2 6-1 3-10 3-3 6-4 18-6 18-1 24 4 18 7 33 17 24 16 12 9 11 12 4 9 0 6-9 9-9 5-12 2-18-1-18-4-32-11-40-18-24 7-3 11-6 6-12 6-12 9-15 5-18 1-24-1-27-5-27-7-43-17-41-21-34-24-17-15-10-12-9-12-5-12-2-12 2-9 3-6 9-5 12-3z"/>
<path fill="#00FF00" fill-rule="evenodd" d="M1879 1571l17 0 24 2 30 5 27 7 54 24 39 20 36 22 12-1 21 1 2-2 1-12 2-6 7-6 7-3 17-1 21 4 17 6 30 15 23 15 13 12 7 9 4 9 0 6-7 8-11 4-13 1-18-2-15-5-27-11-18-9-21-13-6-2-3 1-9 7-11 3-1 3 0 9-3 6-6 5-9 4-27 1-21 4-15 1-27-3-30-8-36-13-34-18-31-21-23-21-8-12-5-9-3-9 1-9 2-6 6-6 8-4z"/>
<path fill="#48FF00" fill-rule="evenodd" d="M1895 1583l13-1 15 0 45 8 27 7 30 12 48 25 39 25 12 1 6 3 1 1-1 3-7 3 2 15-1 7-4 5-4 3-13 3-18-1-30-4-27 0-36-7-39-15-22-12-22-15-17-15-12-15-5-12 0-6 2-6 7-7zM2168 1625l16 1 21 5 48 25 14 11 11 12 5 12-1 6-2 3-6 4-9 3-15-1-12-2-25-10-34-18-12-9-9-9-6-9-1-6 0-6 4-6 5-3z"/>
<path fill="#90FF00" fill-rule="evenodd" d="M1937 1595l25-1 30 6 27 9 45 22 24 15 22 18 5 6 4 9 1 6-2 6-6 6-9 2-24-1-48-13-39-6-21-7-21-10-17-10-15-12-11-12-6-12 0-9 7-7 9-3zM2168 1631l13-1 18 3 15 6 31 16 13 9 12 12 5 12-1 8-5 4-7 2-21-1-20-7-34-17-17-13-7-9-3-6-1-6 1-5 3-4z"/>
<path fill="#D8FF00" fill-rule="evenodd" d="M1948 1601l8-2 12 0 27 4 27 10 42 21 24 15 17 15 7 12 1 6-1 6-6 5-9 3-12 0-15-3-24-7-72-26-15-7-19-13-7-9-3-6 1-6 5-9 6-6zM2174 1637l10-1 15 2 14 5 29 15 12 9 9 9 4 9-1 6-4 4-6 2-15-1-16-5-32-15-15-12-9-12-1-9 2-3z"/>
<path fill="#FFD800" fill-rule="evenodd" d="M1960 1604l17-1 24 5 21 8 42 21 19 12 16 15 7 12-1 9-5 5-9 2-12-1-15-2-27-10-57-25-19-14-6-6-6-9-1-6 1-6 4-6zM2186 1643l10 0 10 3 35 18 12 12 3 6-1 3-2 3-6 2-12-1-17-7-24-12-10-9-5-9 1-6z"/>
<path fill="#FF9000" fill-rule="evenodd" d="M1964 1610l7-2 9 0 24 5 16 6 43 21 18 12 12 12 5 9 0 6-1 3-4 3-8 2-21-2-24-8-47-22-19-12-12-12-3-6-1-6 2-6zM2197 1658l2-2 3 0 15 5 15 9 3 3 1 3-4 1-6-1-15-6-10-6z"/>
<path fill="#FF4800" fill-rule="evenodd" d="M1972 1616l11-2 18 2 17 6 36 18 15 9 11 9 7 9 2 6-1 3-3 3-6 2-19-2-18-6-41-18-19-12-9-9-3-6-2-6z"/>
<path fill="#FF0000" fill-rule="evenodd" d="M1988 1622l10 0 13 3 43 21 16 12 4 6 0 6-7 3-17-3-47-21-13-9-6-6-2-6 1-3z"/>
</g>
<clipPath id="cd3"><polygon points="1672.3,1714.6 2211.2,1733.1 2412.9,2061.9 1874.0,2043.4"/></clipPath>
<g clip-path="url(#cd3)">
<polygon points="1672.3,1714.6 2211.2,1733.1 2412.9,2061.9 1874.0,2043.4" fill="#0048FF"/>
<path fill="#0090FF" fill-rule="evenodd" d="M1672 1709l3 2 87 0 3 3 87 0 3 3 84 0 3 3 87 0 3 3 87 0 3 3 87 0 10 10 0 3 3 3 0 3 6 6 0 3 6 6 0 3 3 3 0 3 6 6 0 3 3 3 0 3 6 6 0 3 6 6 0 3 3 3 0 3 6 6 0 3 3 3 0 3 6 6 0 3 6 6 0 3 3 3 0 3 6 6 0 3 3 3 0 3 6 6 0 3 6 6 0 3 3 3 0 3 6 6 0 3 3 3 0 3 6 6 0 3 3 3 0 3 6 6 0 3 6 6 0 3 3 3-1 3 6 6 0 3 3 3 0 3 6 6 0 3 6 6 0 3 4 3-1 3 7 6-1 3 4 3-1 3 7 6-1 3 7 6-1 3 3 3 0 3 6 6 0 3 3 3 0 3 6 6 0 3 7 6-1 3 7 9-7 6-3-3-87 0-3-3-87 0-3-3-84 0-3-3-87 0-3-3-87 0-3-3-87 0-9-9 0-3-3-3 0-3-6-6 0-3-6-6 0-3-3-3 0-3-6-6 0-3-3-3 0-3-6-6 0-3-6-6 0-3-3-3 0-3-6-6 0-3-3-3 0-3-6-6 0-3-6-6 0-3-3-3 0-3-6-6 0-3-3-3 0-3-6-6 0-3-6-6 0-3-3-3 0-3-6-6 0-3-3-3 0-3-6-6 0-3-3-3 0-3-6-6 0-3-6-6 0-3-3-3 0-3-6-6 0-3-3-3 0-3-6-6 0-3-6-6 0-3-3-3 0-3-6-6 0-3-3-3 0-3-6-6 0-3-6-6 0-3-3-3 0-3-6-6 0-3-3-3 0-3-6-6 0-3-6-6 0-3-6-9zM1858 1735l-2 4 2 6 6 3 5 0 1-3-3-4-6-5zM1969 1729l-7 4 1 3 7 6 12 6 18 6 14 3 12 0 4-3-1-3-6-6-15-9-21-6zM2176 1951l-9 3-1 4 6 6 11 6 14 4 12 2 9-1 6-3 1-2-1-3-3-3-11-6-19-5zM2197 1822l-3 1-2 3 1 3 5 6 9 6 21 9 8 1 8-1 1-3-1-3-6-6-10-6-16-7zM2308 2008l-6 4-2 3 1 6 8 9 10 6 15 6 22 5 12 0 8-2 1-3-1-3-4-6-6-6-10-7-12-6-15-4-12-2zM2329 1963l0 1 2 0z"/>
<path fill="#00D8FF" fill-rule="evenodd" d="M1672 1709l3 2 87 0 3 3 87 1 3 3 84-1 3 4 87-1 3 4 87-1 3 3 87 0 9 10 0 3 3 3 0 3 6 6 0 3 6 6 0 3 3 3 0 3 6 6 0 3 3 3 0 3 6 6 0 3 6 6 0 3 3 3 0 3 6 6 0 3 3 3 0 3 6 6 0 3 6 6 0 3 3 3 0 3 6 6 0 3 3 3 0 3 6 6 0 3 6 6 0 3 3 3 0 3 6 6 0 3 3 3 0 3 6 6 0 3 3 3 0 3 6 6 0 3 6 6 0 3 3 3 0 3 6 6 0 3 3 3 0 3 6 6 0 3 6 6 0 3 3 3 0 3 6 6 0 3 3 3 0 3 6 6 0 3 6 6 0 3 3 3 0 3 6 6 0 3 3 3 0 3 6 6 0 3 6 6 0 3 6 9-6 6-3-3-87 0-3-3-87 0-3-3-84 0-3-3-87 0-3-3-87 0-3-3-87 0-9-9 0-3-3-3 0-3-6-6 0-3-6-6 0-3-3-3 0-3-6-6 0-3-3-3 0-3-6-6 0-3-6-6 0-3-3-3 0-3-6-6 0-3-3-3 0-3-6-6 0-3-6-6 0-3-3-3 0-3-6-6 0-3-3-3 0-3-6-6 0-3-6-6 0-3-3-3 0-3-6-6 0-3-3-3 0-3-6-6 0-3-3-3 0-3-6-6 0-3-6-6 0-3-3-3 0-3-6-6 0-3-3-3 0-3-6-6 0-3-6-6 0-3-3-3 0-3-6-6 0-3-3-3 0-3-6-6 0-3-6-6 0-3-3-3 0-3-6-6 0-3-3-3 0-3-6-6 0-3-6-6 0-3-6-9zM1696 1726l-6 4-3 3 1 6 5 6 9 5 15 5 15 2 10-3 7-6 0-3-2-6-9-7-21-6zM1816 1721l-12 3-5 6 1 3 4 5 8 7 7 2 39 7 12 3 9-1 27 3 9-2 4-3 1-3 0-9-4-6-31-13-12-2zM1951 1723l-9 2-7 5 0 3 1 3 9 7 33 12 27 9 42 9 9 0 6-1 6-6 0-9-6-8-9-7-14-6-22-7-30-5-18-2zM2158 1945l-8 4-3 6 2 6 6 6 24 12 72 29 51 32 30 11 36 7 15 0 6-3 6-4 1-6-3-6-20-27-8-7-33-18-12-4-50-7-5-3-5-6-6-3-51-16-27-4zM2191 1807l-12 4-3 4 0 5 1 6 5 6 12 9 24 12 24 6 12 0 6-3 5-6 0-6-2-4-8-8-9-6-34-15-12-3zM2335 1946l-6 3-12 1-6 4-2 7 2 6-3 3 1 3 11 3 31-3 2-3 0-3-6-13-6-7z"/>
<path fill="#00FFD8" fill-rule="evenodd" d="M1672 1709l3 3 87 0 3 3 33 0-12 1-24 0-24-3-42 0-21 1-6 4-3-3zM1899 1718l39 0-23 2zM2020 1721l9 0 0 1zM2037 1724l82 0 3 3 87 0 9 9 0 3 3 3 0 3 6 6 0 3 6 6 0 3 3 3 0 3 6 6 0 3 3 3 0 3 6 6 0 3 6 6 0 3 3 3 0 3 6 6 0 3 3 3 0 3 6 6 0 3-21-18-15-8-33-11-24-3-15 0-9 3-5 4-2 3-1 6 3 12 10 12 15 12 44 18 14 4 21 1 18-5 8-6 1-6-1-6 1 0 0 3 6 6 0 3 3 3 0 3 6 6 0 3 6 6 0 3 3 3 0 3 6 6 0 3 3 3 0 3 6 6 0 3 3 3 0 3 6 6 0 3 6 6 0 3 3 3 0 2-12-1-22 11-5 3-10 12-5 2-18-2-93-27-6-1-45 6-6 3-2 4-2 9 4 10 9 7 60 30 90 51 10 4-58 0-3-3-84 0-3-3-87 0-3-3-87 0-3-3-87 0-9-9 0-3-3-3 0-3-6-6 0-3-6-6 0-3-3-3 0-3-6-6 0-3-3-3 0-3-6-6 0-3-6-6 0-3-3-3 0-3-6-6 0-3-3-3 0-3-6-6 0-3-6-6 0-3-3-3 0-3-6-6 0-3-3-3 0-3-6-6 0-3-6-6 0-3-3-3 0-3-6-6 0-3-3-3 0-3-6-6 0-3-3-3 0-3-6-6 0-3-6-6 0-3-3-3 0-3-6-6 0-3-3-3 0-3-6-6 0-3-6-6 0-3-3-3 0-3-6-6 0-3-3-3 0-3-6-6 0-3-6-6 0-4 7 7 8 4 42 8 27-2 36-12 18-3 27 1 48 5 18-1 27 3 30 7 15 6 7 8 5 16 6 5 9 3 21 2 12-3 8-5 2-6 2-21 4-6 8-5 24-1 5-3 1-6-3-6-7-9-11-11-9-6-15-5zM1693 1760l0-1 1 1zM2280 1838l1 0 0 2zM2320 2063l0-1 21 1zM2411 2063l2-3 0 3z"/>
<path fill="#00FF90" fill-rule="evenodd" d="M1834 1781l30-3 42 2 38 4 23 6 20 9 3 4 7 14 8 7 9 5 17 6 5 3 15 18 8 7 22-1-2-12 3-6 7-6 9-3 15-1 15 2 36 8 69 27 30 15 24 16 18 14 12 12 2 6-1 3-6 6-28 14-15 0-57-13-24-7-23-9-31-17-15 9-18 5-3 3-6 9-12 8-18 4-21 0-21-2-21-4-96-26-39-16-33-19-26-23-10-12-8-12-4-12-2-9 0-9 4-6 17-9z"/>
<path fill="#00FF48" fill-rule="evenodd" d="M1844 1796l20-3 24 1 21 4 30 8 42 18 81 45 30-1 1-3 0-6 2-6 6-5 12-4 24 1 30 6 54 20 45 23 33 22 9 9 5 9-1 3-3 3-22 10-9 2-18-2-45-9-22-7-28-12-34-20-3 1-6 7-9 6-24 9-14 3-10 6-12 3-15 1-21-1-42-9-39-14-36-18-31-19-25-21-10-12-6-9-4-9-1-9 2-6 3-6 6-5z"/>
<path fill="#00FF00" fill-rule="evenodd" d="M1863 1808l16-2 18 1 24 4 24 7 27 9 21 9 39 19 36 19 18 0 17 3-3-12 1-6 6-6 9-3 24 1 30 6 42 15 56 26 19 12 11 9 7 9 2 6-2 3-7 6-14 5-18-1-21-3-33-9-21-8-36-17-36-19-1 10-4 6-25 13-9 3-33 0-27 3-21-2-24-5-33-12-30-14-26-16-22-18-14-18-4-9-1-6 2-6 4-6z"/>
<path fill="#48FF00" fill-rule="evenodd" d="M1885 1820l18-3 18 0 21 4 21 6 66 29 42 23 18 2 9 3 9 8 1 6-4 4-17 14-7 3-12 1-15-1-36-5-24-2-36-9-21-8-23-12-18-12-16-15-8-12-2-6 0-6 4-8zM2116 1856l9-2 12 0 27 5 24 8 54 21 26 13 18 12 12 12 3 6 0 3-5 6-9 3-9 2-15-1-33-7-45-17-42-19-26-18-7-9-3-9 3-6z"/>
<path fill="#90FF00" fill-rule="evenodd" d="M1908 1823l13-1 15 1 21 5 18 6 61 28 38 23 18 7 2 3-8 12-5 6-10 3-12 0-30-4-78-22-17-7-15-9-15-12-7-9-4-12 2-9 5-6zM2127 1859l19 0 27 6 75 29 19 10 16 12 8 9 3 6-1 3-6 5-9 2-15 0-15-3-33-9-54-22-26-15-11-9-6-6-2-6 0-6 3-4z"/>
<path fill="#D8FF00" fill-rule="evenodd" d="M1911 1829l7-3 9 0 24 3 26 9 41 18 24 12 26 18 9 9 2 3-1 6-5 6-8 2-12 1-12-2-28-7-62-23-21-12-18-16-6-9-1-6 2-6zM2129 1865l8-2 9 0 24 4 72 28 18 9 13 9 9 9 3 6-1 3-3 3-9 3-12 0-15-3-23-6-53-21-23-12-16-12-4-6-2-6 1-3z"/>
<path fill="#FFD800" fill-rule="evenodd" d="M1922 1832l17-1 21 4 18 6 46 21 21 12 16 12 7 9 1 3-1 4-5 5-7 1-24-2-27-8-51-21-21-12-15-15-3-6 0-6 2-3zM2137 1871l12-3 19 3 27 9 45 18 12 6 13 9 8 9 0 6-4 3-6 1-21-2-25-8-46-18-17-9-13-9-6-9 0-3z"/>
<path fill="#FF9000" fill-rule="evenodd" d="M1929 1838l7-2 9 0 21 5 56 24 16 9 12 9 7 9 1 6-3 3-8 2-20-2-19-6-45-18-17-9-15-12-4-6-2-6 1-3zM2151 1877l10-2 12 2 54 21 24 12 7 6 1 6-5 3-15-1-48-17-21-9-15-9-5-6-1-3z"/>
<path fill="#FF4800" fill-rule="evenodd" d="M1942 1844l12-1 15 4 49 21 19 12 6 6 1 6-3 3-3 0-15-1-17-5-45-18-10-6-10-9-3-6 0-3zM2190 1895l4-1 10 4 11 6-3 1-6-1-13-6z"/>
<path fill="#FF0000" fill-rule="evenodd" d="M1956 1853l4-2 9 3 26 17-7 0-25-9-7-6zM2014 1877l11 3 3 3 0 3-5 0-8-3-3-3z"/>
</g>
<text x="1826.1" y="1231.6" font-size="51" text-anchor="middle">20</text>
<text x="1982.8" y="1237.1" font-size="51" text-anchor="middle">40</text>
<text x="2139.5" y="1242.6" font-size="51" text-anchor="middle">60</text>
<text x="2300.7" y="1248" font-size="51" text-anchor="middle">80</text>
<text x="1653.9" y="1231.8" font-size="51" text-anchor="middle">0</text>
<text x="1642.3" y="1409.6" font-size="51" text-anchor="end">20</text>
<text x="1624.8" y="1562.1" font-size="51" text-anchor="end">40</text>
<text x="1607.2" y="1714.5" font-size="51" text-anchor="end">60</text>
<text x="2415.4" y="1416.2" font-size="51" text-anchor="start">50</text>
<text x="2491.7" y="1549.3" font-size="51" text-anchor="start">100</text>
<text x="2342.1" y="1288" font-size="51" text-anchor="middle">0</text>
<text x="2002.8" y="1185.3" font-size="53" text-anchor="middle" transform="rotate(2 2002.8 1167.3)"><tspan font-style="italic">X</tspan>/cm</text>
<text x="1547.5" y="1492.5" font-size="53" text-anchor="middle" transform="rotate(-83.4 1547.5 1474.6)"><tspan font-style="italic">Y</tspan>/cm</text>
<text x="2498.4" y="1405" font-size="53" text-anchor="middle" transform="rotate(61 2498.4 1387.1)"><tspan font-style="italic">Z</tspan>/cm</text>
<text x="1799.1" y="2152" font-size="52" text-anchor="end">d. 153 DAS</text>
<rect x="2712.0" y="1114.2" width="75.2" height="32.7" fill="#FF0000"/>
<rect x="2712.0" y="1146.4" width="75.2" height="66.3" fill="#FF4800"/>
<rect x="2712.0" y="1212.2" width="75.2" height="66.3" fill="#FF9000"/>
<rect x="2712.0" y="1278.0" width="75.2" height="66.3" fill="#FFD800"/>
<rect x="2712.0" y="1343.9" width="75.2" height="66.3" fill="#D8FF00"/>
<rect x="2712.0" y="1409.7" width="75.2" height="66.3" fill="#90FF00"/>
<rect x="2712.0" y="1475.5" width="75.2" height="66.3" fill="#48FF00"/>
<rect x="2712.0" y="1541.3" width="75.2" height="66.3" fill="#00FF00"/>
<rect x="2712.0" y="1607.1" width="75.2" height="66.3" fill="#00FF48"/>
<rect x="2712.0" y="1673.0" width="75.2" height="66.3" fill="#00FF90"/>
<rect x="2712.0" y="1738.8" width="75.2" height="66.3" fill="#00FFD8"/>
<rect x="2712.0" y="1804.6" width="75.2" height="66.3" fill="#00D8FF"/>
<rect x="2712.0" y="1870.4" width="75.2" height="66.3" fill="#0090FF"/>
<rect x="2712.0" y="1936.2" width="75.2" height="66.3" fill="#0048FF"/>
<rect x="2712.0" y="2002.1" width="75.2" height="32.5" fill="#0000FF"/>
<line x1="2712.0" y1="1146.4" x2="2787.2" y2="1146.4" stroke="#333" stroke-width="1.2"/>
<line x1="2712.0" y1="1212.2" x2="2787.2" y2="1212.2" stroke="#333" stroke-width="1.2"/>
<line x1="2712.0" y1="1278.0" x2="2787.2" y2="1278.0" stroke="#333" stroke-width="1.2"/>
<line x1="2712.0" y1="1343.9" x2="2787.2" y2="1343.9" stroke="#333" stroke-width="1.2"/>
<line x1="2712.0" y1="1409.7" x2="2787.2" y2="1409.7" stroke="#333" stroke-width="1.2"/>
<line x1="2712.0" y1="1475.5" x2="2787.2" y2="1475.5" stroke="#333" stroke-width="1.2"/>
<line x1="2712.0" y1="1541.3" x2="2787.2" y2="1541.3" stroke="#333" stroke-width="1.2"/>
<line x1="2712.0" y1="1607.1" x2="2787.2" y2="1607.1" stroke="#333" stroke-width="1.2"/>
<line x1="2712.0" y1="1673.0" x2="2787.2" y2="1673.0" stroke="#333" stroke-width="1.2"/>
<line x1="2712.0" y1="1738.8" x2="2787.2" y2="1738.8" stroke="#333" stroke-width="1.2"/>
<line x1="2712.0" y1="1804.6" x2="2787.2" y2="1804.6" stroke="#333" stroke-width="1.2"/>
<line x1="2712.0" y1="1870.4" x2="2787.2" y2="1870.4" stroke="#333" stroke-width="1.2"/>
<line x1="2712.0" y1="1936.2" x2="2787.2" y2="1936.2" stroke="#333" stroke-width="1.2"/>
<line x1="2712.0" y1="2002.1" x2="2787.2" y2="2002.1" stroke="#333" stroke-width="1.2"/>
<rect x="2710.7" y="1112.9" width="77.8" height="922.5" fill="none" stroke="#000" stroke-width="2.8"/>
<text x="2807" y="1162.5" font-size="52" text-anchor="start">28</text>
<text x="2807" y="1228.3" font-size="52" text-anchor="start">26</text>
<text x="2807" y="1294.1" font-size="52" text-anchor="start">24</text>
<text x="2807" y="1359.9" font-size="52" text-anchor="start">22</text>
<text x="2807" y="1425.8" font-size="52" text-anchor="start">20</text>
<text x="2807" y="1491.6" font-size="52" text-anchor="start">18</text>
<text x="2807" y="1557.4" font-size="52" text-anchor="start">16</text>
<text x="2807" y="1623.2" font-size="52" text-anchor="start">14</text>
<text x="2807" y="1689" font-size="52" text-anchor="start">12</text>
<text x="2807" y="1754.9" font-size="52" text-anchor="start">10</text>
<text x="2807" y="1820.7" font-size="52" text-anchor="start">8</text>
<text x="2807" y="1886.5" font-size="52" text-anchor="start">6</text>
<text x="2807" y="1952.3" font-size="52" text-anchor="start">4</text>
<text x="2807" y="2018.1" font-size="52" text-anchor="start">2</text>
<text x="2586" y="1084.5" font-size="52.5" text-anchor="start"><tspan font-style="italic">RLD</tspan>/(cm·cm<tspan font-size="29" dy="-17">−2</tspan><tspan dy="17">)</tspan></text>
<g stroke="#000" fill="none" stroke-width="4.6" stroke-linecap="round" stroke-linejoin="round">
<path d="M2333.7 342.7L2568 354.3"/>
<path d="M2333.7 342.7L2310.7 597.5L2309.4 625.7"/>
<path d="M2333.7 342.7L2405 464"/>
<path d="M2323.5 468.2L3244.7 511.8"/>
<path d="M2310.7 597.5L2543.7 606.5"/>
<path d="M2543.7 606.5L2568 354.3C2569 338 2585 315 2609 314.6L3256 341.5"/>
<path d="M2543.7 606.5C2546 585 2565 563 2588.5 563L3232 593.7"/>
<path d="M2572 354.5L3255 383.7" stroke-dasharray="17 9.5" stroke-width="5"/>
<path d="M2548 606.7L3228 636" stroke-dasharray="17 9.5" stroke-width="5"/>
<path d="M2323.5 474.6L2479.6 741.3" stroke-dasharray="15 9" stroke-width="3.6"/>
<path d="M2310.7 597.6L2441.2 820.7" stroke-width="4.2"/>
<path d="M2660.2 610.3L2658.9 641"/>
<path d="M3004 627L3002.7 655.2M3229.4 636L3228.4 665.4"/>
</g>
<g stroke="#111" stroke-width="2" fill="none">
<path d="M2676.9 397.8L2676.1 483.6M2781.5 400L2781.2 485M2642.3 356.8L2676.9 397.8M2744.7 362L2780.6 400.4"/>
</g>
<polygon points="2642.3,355.5 2626.9,361.9 2609.0,358.1 2603.9,351.7 2606.4,345.3 2602.6,336.3 2597.5,329.9 2611.6,328.6 2618.0,324.8 2616.7,314.5 2620.5,303.5 2632.1,313.2 2646.1,319.6 2655.1,314.5 2662.8,312.0 2664.1,322.2 2667.9,329.9 2672.5,333.7 2671.0,342.7 2666.6,349.1 2657.7,354.2" fill="#fafafa" stroke="#111" stroke-width="2.2" stroke-linejoin="round"/>
<path d="M2642.3 355.5L2620.5 303.5M2642.3 355.5L2662.8 312.0M2642.3 355.5L2600.0 330.4M2642.3 355.5L2671.7 333.7M2642.3 355.5L2606.4 352.9M2642.3 355.5L2665.3 349.1" stroke="#111" stroke-width="1.7" fill="none"/>
<polygon points="2744.7,361.4 2729.3,367.8 2711.4,364.0 2706.3,357.6 2708.8,351.2 2705.0,342.2 2699.9,335.8 2714.0,334.5 2720.4,330.7 2719.1,320.4 2722.9,309.4 2734.5,319.1 2748.5,325.5 2757.5,320.4 2765.2,317.9 2766.5,328.1 2770.3,335.8 2774.9,339.6 2773.4,348.6 2769.0,355.0 2760.1,360.1" fill="#fafafa" stroke="#111" stroke-width="2.2" stroke-linejoin="round"/>
<path d="M2744.7 361.4L2722.9 309.4M2744.7 361.4L2765.2 317.9M2744.7 361.4L2702.4 336.3M2744.7 361.4L2774.1 339.6M2744.7 361.4L2708.8 358.8M2744.7 361.4L2767.7 355.0" stroke="#111" stroke-width="1.7" fill="none"/>
<polygon points="2676.9,398.3 2674.3,388.1 2669.7,377.8 2675.6,371.4 2692.3,368.9 2701.2,361.9 2705.1,371.4 2711.5,376.5 2725.6,376.5 2737.6,377.3 2729.4,388.1 2724.3,399.6 2731.2,411.1 2719.2,413.7 2712.8,417.5 2708.9,422.6 2699.9,418.8 2685.9,418.3 2679.5,408.5" fill="#fafafa" stroke="#111" stroke-width="2.2" stroke-linejoin="round"/>
<path d="M2676.9 398.3L2701.2 361.9M2676.9 398.3L2737.6 377.3M2676.9 398.3L2731.2 411.1M2676.9 398.3L2708.9 422.6M2676.9 398.3L2674.9 372.7" stroke="#111" stroke-width="1.7" fill="none"/>
<polygon points="2780.6,400.4 2778.0,390.2 2773.4,379.9 2779.3,373.5 2796.0,371.0 2804.9,364.0 2808.8,373.5 2815.2,378.6 2829.3,378.6 2841.3,379.4 2833.1,390.2 2828.0,401.7 2834.9,413.2 2822.9,415.8 2816.5,419.6 2812.6,424.7 2803.6,420.9 2789.6,420.4 2783.2,410.6" fill="#fafafa" stroke="#111" stroke-width="2.2" stroke-linejoin="round"/>
<path d="M2780.6 400.4L2804.9 364.0M2780.6 400.4L2841.3 379.4M2780.6 400.4L2834.9 413.2M2780.6 400.4L2812.6 424.7M2780.6 400.4L2778.6 374.8" stroke="#111" stroke-width="1.7" fill="none"/>
<g stroke="#000" fill="none" stroke-width="4.6" stroke-linejoin="miter">
<polygon points="2263.3,397.3 2245.9,413.7 2538,703.5 2555.2,685.9"/>
<polygon points="2498.9,405.5 2482.2,419.6 2706.8,668 2725.5,650.8"/>
<polygon points="2725.5,417 2708.9,432.4 2945.1,676.9 2963,659"/>
</g>
<circle cx="2946.4" cy="605.2" r="19.2" fill="#000"/>
<polygon points="2476.0,349.7 2455.8,353.3 2456.2,344.3" fill="#000"/>
<polygon points="2311.5,589.0 2308.2,563.7 2318.2,564.4" fill="#000"/>
<polygon points="2409.3,471.6 2390.5,451.3 2400.8,445.3" fill="#000"/>
<path d="M3112.8 506L3112.8 560" stroke="#000" stroke-width="4.2"/>
<polygon points="3112.8,584.5 3102.8,547.5 3122.8,547.5" fill="#000"/>
<path d="M2688.8 752.2L2565 711" stroke="#000" stroke-width="4.2"/>
<polygon points="2542.6,703.5 2582.0,705.5 2575.3,725.5" fill="#000"/>
<text x="2470.7" y="407.1" font-size="54" text-anchor="middle"><tspan font-style="italic">X</tspan></text>
<text x="2419.5" y="518.5" font-size="54" text-anchor="middle"><tspan font-style="italic">Z</tspan></text>
<text x="2277.4" y="594.1" font-size="54" text-anchor="middle"><tspan font-style="italic">Y</tspan></text>
<text x="2305.5" y="673.6" font-size="51" text-anchor="middle">0</text>
<text x="2705.2" y="718.2" font-size="51" text-anchor="middle">30 cm</text>
<text x="2946.7" y="719.4" font-size="51" text-anchor="middle">60 cm</text>
<text x="3226" y="719.4" font-size="51" text-anchor="middle">80 cm</text>
<text x="3080" y="478.5" font-size="50.5" text-anchor="start" style="font-family:'Liberation Serif','Noto Serif CJK SC',serif">薄膜</text>
<text x="2887" y="559" font-size="51.5" text-anchor="start" style="font-family:'Liberation Serif','Noto Serif CJK SC',serif">滴灌带</text>
<text x="2611.5" y="805.5" font-size="51.5" text-anchor="start" style="font-family:'Liberation Serif','Noto Serif CJK SC',serif">微根管</text>
</svg></body></html>
